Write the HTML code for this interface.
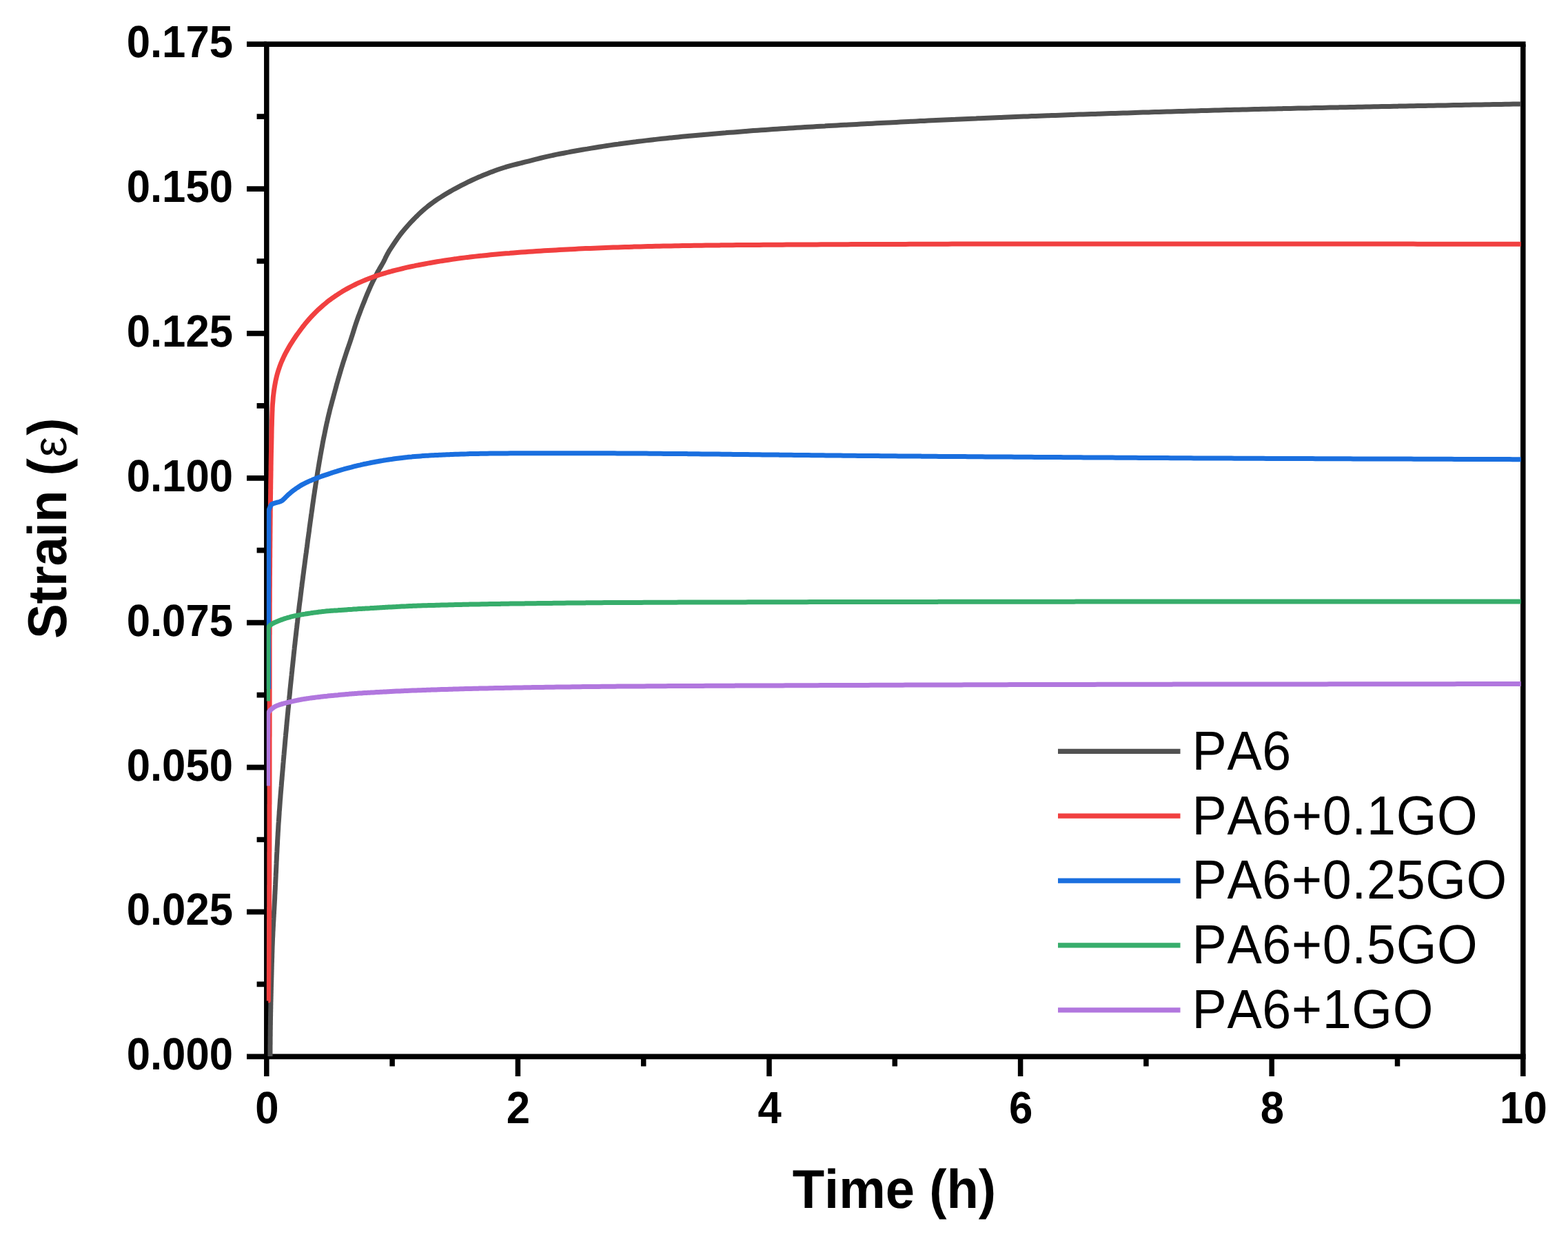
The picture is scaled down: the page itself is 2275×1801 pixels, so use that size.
<!DOCTYPE html>
<html lang="en"><head><meta charset="utf-8"><title>Creep strain vs. time</title>
<style>html,body{margin:0;padding:0;background:#fff}body{width:2275px;height:1801px;overflow:hidden}svg{display:block}text{font-family:"Liberation Sans",Arial,Helvetica,sans-serif;fill:#000;font-kerning:none;text-rendering:geometricPrecision}.tk{font-weight:700;font-size:61.7px}.ti{font-weight:700;font-size:76px}.lg{font-size:75.4px;letter-spacing:0.7px}</style></head><body>
<svg xmlns="http://www.w3.org/2000/svg" width="2275" height="1801" viewBox="0 0 2275 1801">
<rect width="2275" height="1801" fill="#fff"/>
<g stroke="#000" stroke-width="7.5" fill="none" stroke-linecap="butt">
<path stroke-width="7.7" d="M383.05,64.2H2213.55M383.05,1533.3H2213.55"/>
<path d="M386.8,64.2V1533.3M2209.8,64.2V1533.3"/>
<path stroke-width="7.7" d="M358.0,1533.3H386.8M372.6,1428.4H386.8M358.0,1323.4H386.8M372.6,1218.5H386.8M358.0,1113.6H386.8M372.6,1008.6H386.8M358.0,903.7H386.8M372.6,798.7H386.8M358.0,693.8H386.8M372.6,588.9H386.8M358.0,483.9H386.8M372.6,379.0H386.8M358.0,274.1H386.8M372.6,169.1H386.8M358.0,64.2H386.8"/>
<path d="M386.8,1533.3V1562.1M569.1,1533.3V1547.5M751.4,1533.3V1562.1M933.7,1533.3V1547.5M1116.0,1533.3V1562.1M1298.3,1533.3V1547.5M1480.6,1533.3V1562.1M1662.9,1533.3V1547.5M1845.2,1533.3V1562.1M2027.5,1533.3V1547.5M2209.8,1533.3V1562.1"/>
</g>
<clipPath id="c"><rect x="386.8" y="64.2" width="1820.00" height="1469.10"/></clipPath>
<g clip-path="url(#c)" fill="none" stroke-width="7.0" stroke-linejoin="round" stroke-linecap="butt">
<path stroke="#515151" d="M392.0,1533.0 L392.0,1533.0 L392.0,1533.0 L392.0,1533.0 L392.0,1532.9 L392.0,1532.9 L392.0,1532.9 L392.0,1532.9 L392.0,1532.9 L392.0,1532.8 L392.0,1532.8 L392.0,1532.8 L392.0,1532.8 L392.0,1532.8 L392.0,1532.7 L392.0,1532.7 L392.0,1532.7 L392.0,1532.7 L392.0,1532.7 L392.0,1532.6 L392.0,1532.6 L392.0,1532.6 L392.0,1532.6 L392.0,1532.6 L392.0,1532.5 L392.0,1532.5 L392.0,1532.5 L392.0,1532.5 L392.0,1532.4 L392.0,1532.4 L392.0,1532.4 L392.0,1532.4 L392.0,1532.3 L392.0,1532.3 L392.0,1532.3 L392.0,1532.3 L392.0,1532.2 L392.0,1532.2 L392.0,1532.2 L392.0,1532.1 L392.0,1532.1 L392.0,1532.1 L392.0,1532.0 L392.0,1532.0 L392.0,1532.0 L392.0,1531.9 L392.0,1531.9 L392.0,1531.9 L392.0,1531.8 L392.0,1531.8 L392.0,1531.8 L392.0,1531.7 L392.0,1531.7 L392.0,1531.7 L392.0,1531.6 L392.0,1531.6 L392.0,1531.6 L392.0,1531.5 L392.0,1531.5 L392.0,1531.4 L392.0,1531.4 L392.0,1531.4 L392.0,1531.3 L392.0,1531.3 L392.0,1531.2 L392.0,1531.2 L392.0,1531.1 L392.0,1531.1 L392.0,1531.0 L392.0,1531.0 L392.0,1530.9 L392.0,1530.9 L392.0,1530.8 L392.0,1530.8 L392.0,1530.7 L392.0,1530.7 L392.0,1530.6 L392.0,1530.6 L392.0,1530.5 L392.0,1530.5 L392.0,1530.4 L392.0,1530.4 L392.0,1530.3 L392.0,1530.2 L392.0,1530.2 L392.0,1530.1 L392.0,1530.1 L392.0,1530.0 L392.0,1529.9 L392.0,1529.9 L392.0,1529.8 L392.0,1529.7 L392.0,1529.7 L392.0,1529.6 L392.0,1529.5 L392.0,1529.4 L392.0,1529.4 L392.0,1529.3 L392.0,1529.2 L392.0,1529.1 L392.0,1529.1 L392.0,1529.0 L392.0,1528.9 L392.0,1528.8 L392.0,1528.7 L392.0,1528.7 L392.0,1528.6 L392.0,1528.5 L392.0,1528.4 L392.0,1528.3 L392.0,1528.2 L392.0,1528.1 L392.0,1528.0 L392.0,1527.9 L392.0,1527.8 L392.0,1527.7 L392.0,1527.6 L392.0,1527.5 L392.0,1527.4 L392.0,1527.3 L392.0,1527.2 L392.0,1527.2 L392.0,1527.1 L392.0,1527.0 L392.0,1526.9 L392.0,1526.8 L392.0,1526.6 L392.0,1526.5 L392.0,1526.4 L392.0,1526.3 L392.0,1526.2 L392.0,1526.0 L392.0,1525.9 L392.0,1525.8 L392.0,1525.6 L392.0,1525.5 L392.0,1525.4 L392.0,1525.2 L392.0,1525.1 L392.0,1524.9 L392.0,1524.8 L392.0,1524.6 L392.0,1524.5 L392.0,1524.3 L392.0,1524.2 L392.0,1524.0 L392.0,1523.9 L392.0,1523.7 L392.0,1523.5 L392.0,1523.4 L392.0,1523.2 L392.0,1523.0 L392.0,1522.9 L392.0,1522.7 L392.0,1522.5 L392.0,1522.3 L392.0,1522.1 L392.0,1521.9 L392.0,1521.7 L392.0,1521.5 L392.0,1521.4 L392.0,1521.3 L392.0,1521.1 L392.0,1520.9 L392.0,1520.7 L392.0,1520.5 L392.0,1520.3 L392.0,1520.1 L392.0,1519.8 L392.0,1519.6 L392.0,1519.4 L392.0,1519.1 L392.0,1518.9 L392.0,1518.7 L392.0,1518.4 L392.0,1518.2 L392.0,1517.9 L392.0,1517.6 L392.0,1517.4 L392.0,1517.1 L392.0,1516.8 L392.0,1516.6 L392.0,1516.3 L392.1,1516.0 L392.1,1515.7 L392.1,1515.7 L392.1,1515.4 L392.1,1515.1 L392.1,1514.8 L392.1,1514.5 L392.1,1514.2 L392.1,1513.9 L392.1,1513.6 L392.1,1513.2 L392.1,1512.9 L392.1,1512.6 L392.1,1512.2 L392.1,1511.9 L392.1,1511.5 L392.1,1511.1 L392.1,1510.8 L392.1,1510.4 L392.1,1510.0 L392.1,1509.9 L392.1,1509.6 L392.1,1509.2 L392.1,1508.8 L392.1,1508.4 L392.1,1508.0 L392.1,1507.6 L392.1,1507.2 L392.1,1506.7 L392.1,1506.3 L392.1,1505.9 L392.1,1505.4 L392.1,1505.0 L392.1,1504.5 L392.1,1504.1 L392.1,1504.0 L392.2,1503.5 L392.2,1503.0 L392.2,1502.5 L392.2,1502.0 L392.2,1501.5 L392.2,1501.0 L392.2,1500.5 L392.2,1499.9 L392.2,1499.4 L392.2,1498.8 L392.2,1498.3 L392.2,1498.3 L392.2,1497.7 L392.2,1497.1 L392.2,1496.5 L392.2,1495.9 L392.2,1495.3 L392.2,1494.7 L392.3,1494.0 L392.3,1493.4 L392.3,1492.7 L392.3,1492.6 L392.3,1492.1 L392.3,1491.4 L392.3,1490.7 L392.3,1490.0 L392.3,1489.3 L392.3,1488.6 L392.3,1487.8 L392.4,1487.1 L392.4,1486.8 L392.4,1486.4 L392.4,1485.6 L392.4,1484.8 L392.4,1484.0 L392.4,1483.2 L392.4,1482.4 L392.4,1481.6 L392.4,1481.0 L392.4,1480.7 L392.5,1479.9 L392.5,1479.0 L392.5,1478.1 L392.5,1477.2 L392.5,1476.3 L392.5,1475.4 L392.5,1475.2 L392.6,1474.4 L392.6,1473.5 L392.6,1472.5 L392.6,1471.5 L392.6,1470.5 L392.6,1469.5 L392.6,1469.5 L392.7,1468.4 L392.7,1467.4 L392.7,1466.3 L392.7,1465.2 L392.7,1464.1 L392.8,1463.7 L392.8,1463.0 L392.8,1461.8 L392.8,1460.7 L392.8,1459.5 L392.9,1458.3 L392.9,1457.9 L392.9,1457.1 L392.9,1455.9 L392.9,1454.6 L393.0,1453.3 L393.0,1452.1 L393.0,1452.0 L393.0,1450.7 L393.1,1449.4 L393.1,1448.0 L393.1,1446.6 L393.1,1446.4 L393.2,1445.2 L393.2,1443.8 L393.2,1442.3 L393.3,1440.9 L393.3,1440.6 L393.3,1439.4 L393.3,1437.8 L393.4,1436.3 L393.4,1434.8 L393.4,1434.7 L393.4,1433.1 L393.5,1431.5 L393.5,1429.8 L393.5,1429.0 L393.6,1428.2 L393.6,1426.5 L393.7,1424.7 L393.7,1423.3 L393.7,1423.0 L393.8,1421.2 L393.8,1419.4 L393.9,1417.5 L393.9,1417.5 L393.9,1415.7 L394.0,1413.8 L394.0,1411.8 L394.0,1411.7 L394.1,1409.9 L394.1,1407.9 L394.2,1405.9 L394.2,1405.8 L394.2,1403.8 L394.3,1401.7 L394.3,1400.2 L394.3,1399.5 L394.4,1397.4 L394.5,1395.2 L394.5,1394.4 L394.5,1393.0 L394.6,1390.7 L394.7,1388.6 L394.7,1388.4 L394.7,1386.0 L394.8,1383.7 L394.8,1382.9 L394.9,1381.2 L394.9,1378.8 L395.0,1377.1 L395.0,1376.3 L395.1,1373.7 L395.2,1371.3 L395.2,1371.2 L395.3,1368.6 L395.4,1365.9 L395.4,1365.5 L395.5,1363.2 L395.6,1360.4 L395.7,1359.8 L395.8,1357.7 L395.9,1354.8 L395.9,1354.0 L396.0,1351.9 L396.2,1349.0 L396.2,1348.2 L396.3,1346.0 L396.5,1343.0 L396.5,1342.5 L396.6,1339.9 L396.8,1336.8 L396.8,1336.7 L397.0,1333.7 L397.1,1330.9 L397.2,1330.4 L397.3,1327.2 L397.5,1325.2 L397.5,1323.8 L397.7,1320.5 L397.8,1319.4 L397.9,1317.0 L398.1,1313.6 L398.1,1313.5 L398.3,1310.0 L398.4,1307.9 L398.5,1306.4 L398.7,1302.7 L398.7,1302.1 L398.8,1299.0 L399.0,1296.3 L399.0,1295.2 L399.2,1291.4 L399.3,1290.5 L399.4,1287.5 L399.5,1284.8 L399.6,1283.5 L399.8,1279.5 L399.8,1279.0 L400.0,1275.4 L400.1,1273.2 L400.2,1271.2 L400.3,1267.5 L400.4,1267.0 L400.6,1262.7 L400.6,1261.7 L400.8,1258.3 L400.9,1255.9 L401.0,1253.9 L401.1,1250.2 L401.2,1249.4 L401.4,1244.8 L401.4,1244.4 L401.6,1240.2 L401.7,1238.6 L401.9,1235.4 L402.0,1232.8 L402.1,1230.6 L402.3,1227.1 L402.4,1225.8 L402.6,1221.3 L402.6,1220.8 L402.9,1215.8 L402.9,1215.5 L403.2,1210.7 L403.2,1209.8 L403.5,1205.5 L403.6,1204.0 L403.8,1200.2 L403.9,1198.2 L404.1,1194.8 L404.3,1192.5 L404.5,1189.4 L404.7,1186.7 L404.9,1183.8 L405.1,1181.0 L405.2,1178.2 L405.5,1175.2 L405.7,1172.5 L405.9,1169.4 L406.1,1166.7 L406.3,1163.7 L406.5,1160.8 L406.8,1157.9 L407.0,1154.8 L407.2,1152.2 L407.5,1148.7 L407.7,1146.4 L408.0,1142.5 L408.2,1140.6 L408.5,1136.2 L408.6,1134.9 L409.1,1129.8 L409.1,1129.1 L409.6,1123.4 L409.6,1123.3 L410.1,1117.6 L410.2,1116.8 L410.6,1111.9 L410.7,1110.1 L411.1,1106.1 L411.3,1103.2 L411.6,1100.4 L411.9,1096.3 L412.1,1094.6 L412.5,1089.3 L412.6,1088.8 L413.1,1083.1 L413.2,1082.2 L413.6,1077.3 L413.8,1074.9 L414.1,1071.6 L414.5,1067.5 L414.6,1065.8 L415.2,1060.1 L415.2,1060.1 L415.7,1054.3 L415.9,1052.5 L416.2,1048.6 L416.6,1044.7 L416.8,1042.8 L417.3,1037.1 L417.4,1036.9 L417.9,1031.3 L418.1,1028.9 L418.5,1025.6 L418.9,1020.8 L419.0,1019.8 L419.6,1014.1 L419.7,1012.6 L420.2,1008.3 L420.6,1004.2 L420.7,1002.6 L421.3,996.8 L421.4,995.7 L421.9,991.1 L422.3,987.1 L422.5,985.4 L423.1,979.6 L423.2,978.3 L423.7,973.9 L424.1,969.4 L424.3,968.1 L424.9,962.4 L425.1,960.3 L425.5,956.6 L426.1,951.1 L426.1,950.9 L426.7,945.1 L427.1,941.8 L427.3,939.4 L428.0,933.7 L428.1,932.3 L428.6,927.9 L429.2,922.6 L429.3,922.2 L429.9,916.4 L430.3,912.8 L430.6,910.7 L431.2,905.0 L431.5,902.9 L431.9,899.2 L432.6,893.5 L432.7,892.8 L433.2,887.8 L433.9,882.5 L433.9,882.0 L434.6,876.3 L435.2,872.1 L435.4,870.6 L436.1,864.8 L436.5,861.5 L436.8,859.1 L437.5,853.4 L437.9,850.7 L438.2,847.6 L439.0,841.9 L439.3,839.8 L439.7,836.2 L440.5,830.5 L440.7,828.6 L441.2,824.7 L442.0,819.0 L442.2,817.4 L442.7,813.3 L443.5,807.5 L443.7,805.9 L444.3,801.8 L445.0,796.1 L445.3,794.2 L445.8,790.4 L446.5,784.6 L446.8,782.4 L447.3,778.9 L448.1,773.2 L448.5,770.4 L448.8,767.5 L449.6,761.7 L450.1,758.1 L450.4,756.0 L451.2,750.3 L451.8,745.7 L452.0,744.6 L452.8,738.9 L453.6,733.1 L453.6,733.1 L454.4,727.4 L455.2,721.7 L455.4,720.3 L456.1,716.0 L456.9,710.3 L457.4,707.3 L457.8,704.6 L458.7,698.9 L459.4,694.1 L459.6,693.2 L460.5,687.4 L461.4,681.7 L461.6,680.7 L462.4,676.0 L463.3,670.4 L463.9,667.1 L464.3,664.7 L465.3,659.0 L466.3,653.3 L466.3,653.3 L467.4,647.6 L468.4,641.9 L468.9,639.3 L469.5,636.3 L470.7,630.6 L471.8,625.1 L471.8,624.9 L473.0,619.3 L474.2,613.6 L474.9,610.8 L475.5,608.0 L476.8,602.4 L478.2,596.8 L478.3,596.2 L479.6,591.2 L481.1,585.6 L482.1,581.6 L482.6,580.0 L484.1,574.4 L485.6,568.9 L486.2,566.7 L487.1,563.3 L488.6,557.7 L490.2,552.1 L490.3,551.6 L491.8,546.6 L493.4,541.0 L494.8,536.3 L495.0,535.5 L496.7,530.0 L498.4,524.5 L499.6,520.8 L500.2,519.0 L502.0,513.5 L503.8,508.0 L504.8,505.2 L505.7,502.5 L507.6,497.1 L509.4,491.6 L510.1,489.4 L511.2,486.1 L512.9,480.6 L514.6,475.1 L515.2,473.2 L516.4,469.6 L518.3,464.1 L520.2,458.7 L520.9,456.9 L522.3,453.3 L524.3,447.9 L526.4,442.5 L527.2,440.6 L528.6,437.1 L530.7,431.8 L532.9,426.4 L533.9,424.1 L535.2,421.1 L537.5,415.8 L540.0,410.6 L541.4,407.6 L542.5,405.4 L545.1,400.3 L547.8,395.1 L549.9,391.4 L550.6,390.1 L553.6,385.1 L556.4,380.1 L558.9,375.0 L558.9,374.9 L561.5,369.7 L564.3,364.7 L567.4,359.8 L568.3,358.5 L570.6,355.0 L573.8,350.2 L577.1,345.4 L579.2,342.6 L580.5,340.8 L584.1,336.3 L587.9,331.8 L591.6,327.5 L591.6,327.5 L595.5,323.2 L599.5,319.0 L603.5,314.9 L605.4,313.1 L607.7,310.8 L611.9,306.9 L616.2,303.1 L620.5,299.6 L620.7,299.4 L625.3,295.9 L629.9,292.5 L634.7,289.2 L637.1,287.6 L639.5,286.1 L644.4,283.0 L649.4,280.0 L654.4,277.1 L655.0,276.8 L659.4,274.3 L664.5,271.6 L669.6,268.9 L673.8,266.8 L674.8,266.3 L680.0,263.7 L685.2,261.3 L690.5,258.9 L693.3,257.6 L695.8,256.6 L701.1,254.3 L706.4,252.2 L711.8,250.0 L713.6,249.4 L717.2,248.0 L722.7,246.0 L728.1,244.2 L733.6,242.5 L734.7,242.2 L739.2,240.9 L744.8,239.4 L750.4,238.0 L756.0,236.6 L756.5,236.5 L761.6,235.2 L767.2,233.8 L772.8,232.3 L778.4,230.9 L778.8,230.8 L784.0,229.5 L789.6,228.1 L795.2,226.8 L800.9,225.6 L801.6,225.5 L806.5,224.4 L812.2,223.3 L817.9,222.2 L823.5,221.1 L824.8,220.9 L829.2,220.0 L834.9,219.0 L840.6,218.0 L846.3,217.0 L848.6,216.6 L852.0,216.1 L857.7,215.1 L863.4,214.2 L869.1,213.3 L872.8,212.7 L874.8,212.4 L880.5,211.5 L886.2,210.6 L891.9,209.8 L897.4,209.1 L897.7,209.0 L903.4,208.2 L909.1,207.5 L914.8,206.7 L920.6,206.0 L922.5,205.8 L926.3,205.3 L932.0,204.6 L937.8,203.9 L943.5,203.2 L948.0,202.7 L949.2,202.6 L955.0,201.9 L960.7,201.3 L966.5,200.7 L972.2,200.1 L974.0,199.9 L977.9,199.5 L983.7,198.9 L989.4,198.3 L995.2,197.8 L1000.4,197.3 L1000.9,197.3 L1006.7,196.7 L1012.4,196.2 L1018.2,195.7 L1024.0,195.2 L1027.2,194.9 L1029.7,194.7 L1035.5,194.2 L1041.2,193.7 L1047.0,193.2 L1052.7,192.8 L1054.5,192.6 L1058.5,192.3 L1064.2,191.9 L1070.0,191.4 L1075.8,191.0 L1081.5,190.5 L1082.3,190.5 L1087.3,190.1 L1093.0,189.6 L1098.8,189.2 L1104.6,188.8 L1110.3,188.4 L1110.5,188.4 L1116.1,188.0 L1121.9,187.6 L1127.6,187.2 L1133.4,186.8 L1139.1,186.4 L1139.2,186.4 L1144.9,186.0 L1150.7,185.7 L1156.4,185.3 L1162.2,184.9 L1168.0,184.6 L1168.3,184.6 L1173.7,184.2 L1179.5,183.9 L1185.3,183.6 L1191.0,183.2 L1196.8,182.9 L1197.9,182.8 L1202.6,182.6 L1208.3,182.3 L1214.1,181.9 L1219.9,181.6 L1225.6,181.3 L1228.0,181.2 L1231.4,181.0 L1237.2,180.7 L1242.9,180.4 L1248.7,180.1 L1254.5,179.8 L1258.6,179.5 L1260.2,179.5 L1266.0,179.2 L1271.8,178.8 L1277.5,178.5 L1283.3,178.2 L1289.1,177.9 L1289.7,177.9 L1294.8,177.7 L1300.6,177.4 L1306.4,177.1 L1312.1,176.8 L1317.9,176.5 L1321.3,176.3 L1323.7,176.2 L1329.5,175.9 L1335.2,175.6 L1341.0,175.4 L1346.8,175.1 L1352.5,174.8 L1353.4,174.8 L1358.3,174.5 L1364.1,174.3 L1369.8,174.0 L1375.6,173.7 L1381.4,173.5 L1386.0,173.3 L1387.2,173.2 L1392.9,173.0 L1398.7,172.7 L1404.5,172.5 L1410.2,172.2 L1416.0,172.0 L1419.2,171.8 L1421.8,171.7 L1427.5,171.5 L1433.3,171.2 L1439.1,171.0 L1444.9,170.7 L1450.6,170.5 L1452.9,170.4 L1456.4,170.2 L1462.2,170.0 L1467.9,169.8 L1473.7,169.6 L1479.5,169.3 L1485.3,169.1 L1487.1,169.0 L1491.0,168.9 L1496.8,168.6 L1502.6,168.4 L1508.3,168.2 L1514.1,168.0 L1519.9,167.8 L1521.9,167.7 L1525.7,167.6 L1531.4,167.4 L1537.2,167.2 L1543.0,166.9 L1548.7,166.7 L1554.5,166.5 L1557.2,166.4 L1560.3,166.3 L1566.1,166.1 L1571.8,165.9 L1577.6,165.7 L1583.4,165.6 L1589.2,165.4 L1593.2,165.2 L1594.9,165.2 L1600.7,165.0 L1606.5,164.8 L1612.2,164.6 L1618.0,164.4 L1623.8,164.2 L1629.6,164.0 L1629.7,164.0 L1635.3,163.9 L1641.1,163.7 L1646.9,163.5 L1652.7,163.3 L1658.4,163.1 L1664.2,163.0 L1666.8,162.9 L1670.0,162.8 L1675.7,162.6 L1681.5,162.4 L1687.3,162.3 L1693.1,162.1 L1698.8,161.9 L1704.4,161.7 L1704.6,161.7 L1710.4,161.6 L1716.2,161.4 L1721.9,161.2 L1727.7,161.1 L1733.5,160.9 L1739.3,160.7 L1742.7,160.6 L1745.0,160.6 L1750.8,160.4 L1756.6,160.2 L1762.4,160.1 L1768.1,159.9 L1773.9,159.8 L1779.7,159.6 L1781.6,159.6 L1785.4,159.5 L1791.2,159.3 L1797.0,159.2 L1802.8,159.0 L1808.5,158.9 L1814.3,158.7 L1820.1,158.6 L1821.2,158.6 L1825.9,158.5 L1831.6,158.3 L1837.4,158.2 L1843.2,158.1 L1849.0,157.9 L1854.7,157.8 L1860.5,157.7 L1861.4,157.6 L1866.3,157.5 L1872.1,157.4 L1877.8,157.3 L1883.6,157.1 L1889.4,157.0 L1895.2,156.9 L1900.9,156.8 L1902.2,156.7 L1906.7,156.6 L1912.5,156.5 L1918.3,156.4 L1924.0,156.3 L1929.8,156.1 L1935.6,156.0 L1941.4,155.9 L1943.7,155.8 L1947.1,155.8 L1952.9,155.7 L1958.7,155.5 L1964.5,155.4 L1970.2,155.3 L1976.0,155.2 L1981.8,155.1 L1985.8,155.0 L1987.6,154.9 L1993.3,154.8 L1999.1,154.7 L2004.9,154.6 L2010.7,154.5 L2016.4,154.4 L2022.2,154.3 L2028.0,154.2 L2028.7,154.1 L2033.8,154.0 L2039.5,153.9 L2045.3,153.8 L2051.1,153.7 L2056.9,153.6 L2062.6,153.5 L2068.4,153.4 L2072.2,153.3 L2074.2,153.3 L2080.0,153.2 L2085.7,153.1 L2091.5,153.0 L2097.3,152.9 L2103.1,152.8 L2108.8,152.6 L2114.6,152.5 L2116.4,152.5 L2120.4,152.4 L2126.1,152.3 L2131.9,152.2 L2137.7,152.1 L2143.5,152.0 L2149.2,151.9 L2155.0,151.8 L2160.8,151.7 L2161.3,151.7 L2166.6,151.6 L2172.3,151.5 L2178.1,151.4 L2183.9,151.3 L2189.7,151.2 L2195.4,151.1 L2201.2,151.0 L2207.0,150.9"/>
<path stroke="#f14040" d="M389.3,1452.6 L389.3,1452.6 L389.3,1452.6 L389.3,1452.6 L389.3,1452.5 L389.3,1452.5 L389.3,1452.5 L389.3,1452.5 L389.3,1452.5 L389.3,1452.5 L389.3,1452.4 L389.3,1452.4 L389.3,1452.4 L389.3,1452.4 L389.3,1452.4 L389.3,1452.3 L389.3,1452.3 L389.3,1452.3 L389.3,1452.3 L389.3,1452.3 L389.3,1452.2 L389.3,1452.2 L389.3,1452.2 L389.3,1452.2 L389.3,1452.1 L389.3,1452.1 L389.3,1452.1 L389.3,1452.1 L389.4,1452.1 L389.4,1452.0 L389.4,1452.0 L389.4,1452.0 L389.4,1452.0 L389.4,1451.9 L389.4,1451.9 L389.4,1451.9 L389.4,1451.8 L389.4,1451.8 L389.4,1451.8 L389.4,1451.8 L389.4,1451.7 L389.4,1451.7 L389.4,1451.7 L389.4,1451.6 L389.4,1451.6 L389.4,1451.6 L389.4,1451.5 L389.4,1451.5 L389.4,1451.5 L389.4,1451.4 L389.4,1451.4 L389.4,1451.4 L389.4,1451.3 L389.4,1451.3 L389.4,1451.3 L389.4,1451.2 L389.4,1451.2 L389.4,1451.1 L389.4,1451.1 L389.4,1451.1 L389.4,1451.0 L389.4,1451.0 L389.4,1450.9 L389.4,1450.9 L389.4,1450.8 L389.4,1450.8 L389.4,1450.8 L389.4,1450.7 L389.4,1450.7 L389.4,1450.6 L389.4,1450.6 L389.4,1450.5 L389.4,1450.5 L389.4,1450.4 L389.4,1450.4 L389.4,1450.3 L389.4,1450.3 L389.4,1450.2 L389.4,1450.2 L389.4,1450.1 L389.4,1450.0 L389.4,1450.0 L389.4,1449.9 L389.4,1449.9 L389.4,1449.8 L389.4,1449.8 L389.4,1449.7 L389.4,1449.6 L389.4,1449.6 L389.4,1449.5 L389.4,1449.4 L389.4,1449.4 L389.4,1449.3 L389.4,1449.2 L389.4,1449.2 L389.4,1449.1 L389.4,1449.0 L389.4,1448.9 L389.4,1448.9 L389.4,1448.8 L389.4,1448.7 L389.4,1448.6 L389.4,1448.6 L389.4,1448.5 L389.4,1448.4 L389.4,1448.3 L389.4,1448.2 L389.4,1448.1 L389.4,1448.0 L389.4,1448.0 L389.4,1447.9 L389.4,1447.8 L389.4,1447.7 L389.4,1447.6 L389.4,1447.5 L389.4,1447.4 L389.4,1447.3 L389.4,1447.2 L389.4,1447.1 L389.4,1447.0 L389.4,1447.0 L389.4,1446.9 L389.4,1446.8 L389.4,1446.7 L389.4,1446.5 L389.4,1446.4 L389.4,1446.3 L389.4,1446.2 L389.4,1446.1 L389.4,1446.0 L389.4,1445.8 L389.4,1445.7 L389.4,1445.6 L389.4,1445.5 L389.4,1445.3 L389.4,1445.2 L389.4,1445.1 L389.4,1444.9 L389.4,1444.8 L389.4,1444.6 L389.4,1444.5 L389.4,1444.4 L389.4,1444.2 L389.4,1444.1 L389.4,1443.9 L389.5,1443.7 L389.5,1443.6 L389.5,1443.4 L389.5,1443.3 L389.5,1443.1 L389.5,1442.9 L389.5,1442.8 L389.5,1442.6 L389.5,1442.4 L389.5,1442.2 L389.5,1442.0 L389.5,1441.9 L389.5,1441.7 L389.5,1441.5 L389.5,1441.5 L389.5,1441.3 L389.5,1441.1 L389.5,1440.9 L389.5,1440.7 L389.5,1440.5 L389.5,1440.3 L389.5,1440.1 L389.5,1439.8 L389.5,1439.6 L389.5,1439.4 L389.5,1439.2 L389.5,1438.9 L389.5,1438.7 L389.5,1438.5 L389.5,1438.2 L389.5,1438.0 L389.5,1437.7 L389.5,1437.5 L389.5,1437.2 L389.5,1436.9 L389.5,1436.7 L389.5,1436.4 L389.5,1436.1 L389.5,1435.9 L389.5,1435.8 L389.5,1435.6 L389.6,1435.3 L389.6,1435.0 L389.6,1434.7 L389.6,1434.4 L389.6,1434.1 L389.6,1433.8 L389.6,1433.4 L389.6,1433.1 L389.6,1432.8 L389.6,1432.5 L389.6,1432.1 L389.6,1431.8 L389.6,1431.4 L389.6,1431.1 L389.6,1430.7 L389.6,1430.3 L389.6,1430.3 L389.6,1430.0 L389.6,1429.6 L389.6,1429.2 L389.6,1428.8 L389.6,1428.4 L389.6,1428.0 L389.6,1427.6 L389.6,1427.2 L389.7,1426.8 L389.7,1426.3 L389.7,1425.9 L389.7,1425.4 L389.7,1425.0 L389.7,1424.7 L389.7,1424.5 L389.7,1424.1 L389.7,1423.6 L389.7,1423.1 L389.7,1422.6 L389.7,1422.1 L389.7,1421.6 L389.7,1421.1 L389.7,1420.6 L389.7,1420.1 L389.7,1419.5 L389.7,1419.1 L389.7,1419.0 L389.8,1418.4 L389.8,1417.9 L389.8,1417.3 L389.8,1416.7 L389.8,1416.1 L389.8,1415.5 L389.8,1414.9 L389.8,1414.3 L389.8,1413.7 L389.8,1413.5 L389.8,1413.0 L389.8,1412.4 L389.8,1411.7 L389.8,1411.0 L389.8,1410.3 L389.9,1409.7 L389.9,1408.9 L389.9,1408.2 L389.9,1408.0 L389.9,1407.5 L389.9,1406.8 L389.9,1406.0 L389.9,1405.3 L389.9,1404.5 L389.9,1403.7 L389.9,1402.9 L389.9,1402.4 L389.9,1402.1 L389.9,1401.3 L390.0,1400.4 L390.0,1399.6 L390.0,1398.7 L390.0,1397.8 L390.0,1396.9 L390.0,1396.8 L390.0,1396.0 L390.0,1395.1 L390.0,1394.2 L390.0,1393.2 L390.0,1392.2 L390.1,1391.2 L390.1,1391.2 L390.1,1390.2 L390.1,1389.2 L390.1,1388.2 L390.1,1387.2 L390.1,1386.1 L390.1,1385.6 L390.1,1385.0 L390.1,1383.9 L390.1,1382.8 L390.2,1381.7 L390.2,1380.5 L390.2,1380.1 L390.2,1379.3 L390.2,1378.1 L390.2,1376.9 L390.2,1375.7 L390.2,1374.5 L390.2,1374.5 L390.2,1373.2 L390.2,1371.9 L390.3,1370.6 L390.3,1369.3 L390.3,1368.9 L390.3,1367.9 L390.3,1366.5 L390.3,1365.1 L390.3,1363.7 L390.3,1363.3 L390.3,1362.3 L390.3,1360.8 L390.4,1359.3 L390.4,1357.8 L390.4,1357.7 L390.4,1356.3 L390.4,1354.7 L390.4,1353.1 L390.4,1352.2 L390.4,1351.5 L390.4,1349.9 L390.5,1348.2 L390.5,1346.6 L390.5,1346.5 L390.5,1344.8 L390.5,1343.1 L390.5,1341.3 L390.5,1341.0 L390.5,1339.5 L390.5,1337.7 L390.5,1335.8 L390.5,1335.4 L390.6,1333.9 L390.6,1332.0 L390.6,1330.1 L390.6,1329.8 L390.6,1328.1 L390.6,1326.1 L390.6,1324.3 L390.6,1324.0 L390.6,1322.0 L390.6,1319.8 L390.6,1318.7 L390.6,1317.7 L390.7,1315.5 L390.7,1313.3 L390.7,1313.1 L390.7,1311.1 L390.7,1308.8 L390.7,1307.5 L390.7,1306.5 L390.7,1304.1 L390.7,1301.9 L390.7,1301.7 L390.7,1299.3 L390.7,1296.8 L390.7,1296.3 L390.7,1294.3 L390.7,1291.7 L390.7,1290.8 L390.7,1289.1 L390.7,1286.5 L390.7,1285.2 L390.8,1283.8 L390.8,1281.1 L390.8,1279.6 L390.8,1278.3 L390.8,1275.5 L390.8,1274.0 L390.8,1272.7 L390.8,1269.8 L390.8,1268.4 L390.8,1266.8 L390.8,1263.8 L390.8,1262.9 L390.8,1260.8 L390.8,1257.7 L390.8,1257.3 L390.8,1254.6 L390.8,1251.7 L390.8,1251.4 L390.8,1248.1 L390.8,1246.1 L390.8,1244.8 L390.8,1241.5 L390.8,1240.5 L390.8,1238.1 L390.9,1235.0 L390.9,1234.7 L390.9,1231.1 L390.9,1229.4 L390.9,1227.6 L390.9,1224.0 L390.9,1223.8 L390.9,1220.3 L390.9,1218.2 L390.9,1216.5 L390.9,1212.7 L390.9,1212.6 L390.9,1208.9 L390.9,1207.0 L390.9,1205.0 L390.9,1201.5 L390.9,1201.0 L390.9,1196.9 L390.9,1195.9 L390.9,1192.8 L390.9,1190.3 L390.9,1188.6 L390.9,1184.7 L390.9,1184.4 L390.9,1180.1 L390.9,1179.1 L390.9,1175.7 L390.9,1173.6 L390.9,1171.2 L390.9,1168.0 L391.0,1166.7 L391.0,1162.4 L391.0,1162.1 L391.0,1157.4 L391.0,1156.8 L391.0,1152.7 L391.0,1151.2 L391.0,1147.9 L391.0,1145.7 L391.0,1143.0 L391.0,1140.1 L391.0,1138.0 L391.0,1134.5 L391.0,1132.9 L391.0,1128.9 L391.0,1127.8 L391.0,1123.3 L391.0,1122.6 L391.0,1117.7 L391.0,1117.3 L391.0,1112.2 L391.0,1111.9 L391.0,1106.6 L391.0,1106.4 L391.0,1101.0 L391.0,1100.8 L391.0,1095.4 L391.0,1095.2 L391.0,1089.8 L391.0,1089.5 L391.0,1084.3 L391.0,1083.6 L391.0,1078.7 L391.0,1077.7 L391.0,1073.1 L391.0,1071.7 L391.1,1067.5 L391.1,1065.5 L391.1,1061.9 L391.1,1059.3 L391.1,1056.4 L391.1,1053.0 L391.1,1050.8 L391.1,1046.6 L391.1,1045.2 L391.1,1040.1 L391.1,1039.6 L391.1,1034.0 L391.1,1033.4 L391.1,1028.4 L391.1,1026.7 L391.1,1022.9 L391.1,1019.9 L391.1,1017.3 L391.1,1012.9 L391.1,1011.7 L391.1,1006.1 L391.1,1005.9 L391.1,1000.5 L391.1,998.7 L391.1,995.0 L391.1,991.4 L391.1,989.4 L391.1,984.0 L391.1,983.8 L391.1,978.2 L391.1,976.5 L391.1,972.6 L391.1,968.8 L391.1,967.1 L391.1,961.5 L391.1,961.0 L391.1,955.9 L391.1,953.1 L391.1,950.3 L391.1,945.1 L391.1,944.7 L391.1,939.1 L391.1,937.0 L391.1,933.6 L391.1,928.7 L391.1,928.0 L391.1,922.4 L391.2,920.3 L391.2,916.8 L391.2,911.7 L391.2,911.2 L391.2,905.7 L391.2,903.1 L391.2,900.1 L391.2,894.5 L391.2,894.2 L391.2,888.9 L391.2,885.3 L391.2,883.3 L391.2,877.8 L391.2,876.2 L391.3,872.2 L391.3,866.9 L391.3,866.6 L391.3,861.0 L391.3,857.5 L391.3,855.4 L391.4,849.8 L391.4,848.0 L391.4,844.3 L391.4,838.7 L391.4,838.3 L391.5,833.1 L391.5,828.4 L391.5,827.5 L391.6,821.9 L391.6,818.4 L391.6,816.4 L391.6,810.8 L391.7,808.2 L391.7,805.2 L391.7,799.6 L391.7,797.9 L391.8,794.0 L391.8,788.5 L391.8,787.4 L391.9,782.9 L391.9,777.3 L391.9,776.7 L392.0,771.7 L392.0,766.1 L392.0,765.8 L392.1,760.6 L392.1,755.0 L392.1,754.8 L392.2,749.4 L392.2,743.8 L392.2,743.6 L392.3,738.2 L392.4,732.6 L392.4,732.2 L392.4,727.1 L392.5,721.5 L392.5,720.7 L392.6,715.9 L392.6,710.3 L392.7,708.9 L392.7,704.7 L392.8,699.2 L392.8,697.0 L392.9,693.6 L393.0,688.0 L393.0,684.9 L393.1,682.4 L393.1,676.8 L393.2,672.6 L393.2,671.3 L393.3,665.7 L393.4,660.1 L393.4,660.1 L393.5,654.5 L393.7,648.9 L393.7,647.3 L393.8,643.4 L393.9,637.8 L394.0,634.4 L394.0,632.2 L394.1,626.6 L394.2,621.3 L394.2,621.0 L394.4,615.5 L394.5,609.9 L394.6,608.0 L394.7,604.3 L394.9,598.7 L395.1,594.4 L395.1,593.1 L395.4,587.6 L395.9,582.0 L396.0,580.7 L396.3,576.4 L397.0,570.9 L397.5,566.8 L397.7,565.4 L398.6,559.9 L399.6,554.4 L399.9,552.8 L400.8,548.9 L402.1,543.5 L403.5,538.8 L403.7,538.1 L405.5,532.8 L407.4,527.6 L408.5,525.0 L409.6,522.5 L411.9,517.4 L414.4,512.4 L414.9,511.5 L417.1,507.5 L419.9,502.6 L422.4,498.4 L422.8,497.9 L425.8,493.2 L428.9,488.5 L430.9,485.6 L432.1,484.0 L435.4,479.5 L438.7,475.0 L440.3,473.0 L442.2,470.6 L445.8,466.3 L449.4,462.1 L450.5,460.9 L453.2,458.0 L457.1,454.0 L461.1,450.1 L461.8,449.4 L465.2,446.3 L469.4,442.6 L473.7,439.1 L474.2,438.6 L478.1,435.6 L482.6,432.3 L487.2,429.1 L487.7,428.8 L491.8,426.1 L496.6,423.1 L501.4,420.3 L502.1,419.9 L506.2,417.6 L511.2,415.0 L516.2,412.5 L517.3,411.9 L521.2,410.1 L526.4,407.9 L531.5,405.7 L533.4,405.0 L536.7,403.7 L542.0,401.8 L547.2,399.9 L550.1,399.0 L552.5,398.2 L557.9,396.6 L563.2,395.0 L567.4,393.9 L568.6,393.5 L574.0,392.1 L579.4,390.8 L584.9,389.5 L585.1,389.4 L590.3,388.2 L595.7,387.0 L601.2,385.9 L603.3,385.4 L606.7,384.8 L612.2,383.7 L617.6,382.7 L621.9,381.9 L623.1,381.7 L628.6,380.7 L634.1,379.8 L639.6,378.9 L640.9,378.7 L645.2,378.0 L650.7,377.2 L656.2,376.4 L660.2,375.8 L661.7,375.6 L667.3,374.8 L672.8,374.1 L678.3,373.4 L679.9,373.3 L683.9,372.8 L689.4,372.1 L695.0,371.5 L699.9,371.0 L700.5,370.9 L706.1,370.4 L711.6,369.8 L717.2,369.3 L720.3,369.0 L722.7,368.8 L728.3,368.3 L733.9,367.8 L739.4,367.4 L741.0,367.2 L745.0,366.9 L750.5,366.5 L756.1,366.1 L761.7,365.7 L762.1,365.7 L767.3,365.3 L772.8,364.9 L778.4,364.5 L783.6,364.2 L784.0,364.2 L789.5,363.8 L795.1,363.5 L800.7,363.2 L805.4,362.9 L806.2,362.9 L811.8,362.5 L817.4,362.2 L823.0,361.9 L827.5,361.7 L828.5,361.7 L834.1,361.4 L839.7,361.1 L845.3,360.8 L850.0,360.6 L850.8,360.6 L856.4,360.4 L862.0,360.2 L867.6,359.9 L872.9,359.7 L873.1,359.7 L878.7,359.5 L884.3,359.3 L889.9,359.1 L895.5,358.9 L896.2,358.9 L901.0,358.7 L906.6,358.5 L912.2,358.4 L917.8,358.2 L919.8,358.1 L923.3,358.0 L928.9,357.9 L934.5,357.7 L940.1,357.6 L943.8,357.5 L945.7,357.5 L951.2,357.3 L956.8,357.2 L962.4,357.1 L968.0,357.0 L968.2,357.0 L973.6,356.9 L979.1,356.8 L984.7,356.7 L990.3,356.6 L993.0,356.5 L995.9,356.5 L1001.5,356.4 L1007.0,356.3 L1012.6,356.2 L1018.2,356.2 L1018.2,356.2 L1023.8,356.1 L1029.4,356.0 L1035.0,356.0 L1040.5,355.9 L1043.7,355.9 L1046.1,355.8 L1051.7,355.8 L1057.3,355.7 L1062.9,355.7 L1068.4,355.6 L1069.8,355.6 L1074.0,355.6 L1079.6,355.5 L1085.2,355.5 L1090.8,355.5 L1096.2,355.4 L1096.3,355.4 L1101.9,355.4 L1107.5,355.3 L1113.1,355.3 L1118.7,355.3 L1123.0,355.2 L1124.2,355.2 L1129.8,355.2 L1135.4,355.2 L1141.0,355.1 L1146.6,355.1 L1150.3,355.1 L1152.2,355.1 L1157.7,355.0 L1163.3,355.0 L1168.9,355.0 L1174.5,354.9 L1178.0,354.9 L1180.1,354.9 L1185.6,354.9 L1191.2,354.8 L1196.8,354.8 L1202.4,354.8 L1206.1,354.8 L1208.0,354.8 L1213.5,354.7 L1219.1,354.7 L1224.7,354.7 L1230.3,354.7 L1234.8,354.6 L1235.9,354.6 L1241.5,354.6 L1247.0,354.6 L1252.6,354.6 L1258.2,354.6 L1263.8,354.5 L1263.8,354.5 L1269.4,354.5 L1274.9,354.5 L1280.5,354.5 L1286.1,354.5 L1291.7,354.4 L1293.3,354.4 L1297.3,354.4 L1302.8,354.4 L1308.4,354.4 L1314.0,354.4 L1319.6,354.3 L1323.3,354.3 L1325.2,354.3 L1330.8,354.3 L1336.3,354.3 L1341.9,354.3 L1347.5,354.2 L1353.1,354.2 L1353.8,354.2 L1358.7,354.2 L1364.2,354.2 L1369.8,354.2 L1375.4,354.2 L1381.0,354.1 L1384.8,354.1 L1386.6,354.1 L1392.1,354.1 L1397.7,354.1 L1403.3,354.1 L1408.9,354.1 L1414.5,354.1 L1416.3,354.1 L1420.1,354.0 L1425.6,354.0 L1431.2,354.0 L1436.8,354.0 L1442.4,354.0 L1448.0,354.0 L1448.2,354.0 L1453.5,354.0 L1459.1,354.0 L1464.7,354.0 L1470.3,354.0 L1475.9,353.9 L1480.7,353.9 L1481.4,353.9 L1487.0,353.9 L1492.6,353.9 L1498.2,353.9 L1503.8,353.9 L1509.4,353.9 L1513.7,353.9 L1514.9,353.9 L1520.5,353.9 L1526.1,353.9 L1531.7,353.9 L1537.3,353.9 L1542.8,353.9 L1547.3,353.9 L1548.4,353.9 L1554.0,353.9 L1559.6,353.9 L1565.2,353.9 L1570.7,353.9 L1576.3,353.9 L1581.3,353.9 L1581.9,353.9 L1587.5,353.9 L1593.1,353.9 L1598.7,353.9 L1604.2,353.9 L1609.8,353.9 L1615.4,353.9 L1615.9,353.9 L1621.0,353.9 L1626.6,353.9 L1632.1,353.9 L1637.7,353.9 L1643.3,353.9 L1648.9,353.9 L1651.1,353.9 L1654.5,353.9 L1660.0,353.9 L1665.6,353.9 L1671.2,353.9 L1676.8,353.9 L1682.4,353.9 L1686.9,353.9 L1688.0,353.9 L1693.5,353.9 L1699.1,353.9 L1704.7,353.9 L1710.3,353.9 L1715.9,353.9 L1721.4,353.9 L1723.2,353.9 L1727.0,353.9 L1732.6,353.9 L1738.2,353.9 L1743.8,353.9 L1749.3,353.9 L1754.9,353.9 L1760.1,353.9 L1760.5,353.9 L1766.1,353.9 L1771.7,353.9 L1777.3,353.9 L1782.8,353.9 L1788.4,353.9 L1794.0,353.9 L1797.5,353.9 L1799.6,353.9 L1805.2,353.9 L1810.7,353.9 L1816.3,353.9 L1821.9,353.9 L1827.5,353.9 L1833.1,353.9 L1835.6,353.9 L1838.6,353.9 L1844.2,353.9 L1849.8,353.9 L1855.4,353.9 L1861.0,353.9 L1866.6,353.9 L1872.1,353.9 L1874.3,353.9 L1877.7,353.9 L1883.3,353.9 L1888.9,353.9 L1894.5,353.9 L1900.0,353.9 L1905.6,354.0 L1911.2,354.0 L1913.6,354.0 L1916.8,354.0 L1922.4,354.0 L1927.9,354.0 L1933.5,354.0 L1939.1,354.0 L1944.7,354.0 L1950.3,354.0 L1953.6,354.0 L1955.9,354.0 L1961.4,354.0 L1967.0,354.0 L1972.6,354.0 L1978.2,354.0 L1983.8,354.0 L1989.3,354.1 L1994.1,354.1 L1994.9,354.1 L2000.5,354.1 L2006.1,354.1 L2011.7,354.1 L2017.2,354.1 L2022.8,354.1 L2028.4,354.1 L2034.0,354.1 L2035.4,354.1 L2039.6,354.1 L2045.1,354.1 L2050.7,354.1 L2056.3,354.2 L2061.9,354.2 L2067.5,354.2 L2073.1,354.2 L2077.3,354.2 L2078.6,354.2 L2084.2,354.2 L2089.8,354.2 L2095.4,354.2 L2101.0,354.2 L2106.5,354.2 L2112.1,354.2 L2117.7,354.2 L2119.8,354.2 L2123.3,354.2 L2128.9,354.2 L2134.4,354.3 L2140.0,354.3 L2145.6,354.3 L2151.2,354.3 L2156.8,354.3 L2162.4,354.3 L2163.1,354.3 L2167.9,354.3 L2173.5,354.3 L2179.1,354.3 L2184.7,354.3 L2190.3,354.3 L2195.8,354.3 L2201.4,354.3 L2207.0,354.3"/>
<path stroke="#1a6fdf" d="M389.6,1000.0 L389.6,1000.0 L389.6,1000.0 L389.6,1000.0 L389.6,999.9 L389.6,999.9 L389.6,999.9 L389.6,999.9 L389.6,999.9 L389.6,999.8 L389.6,999.8 L389.6,999.8 L389.6,999.8 L389.6,999.8 L389.6,999.7 L389.6,999.7 L389.6,999.7 L389.6,999.7 L389.6,999.7 L389.6,999.6 L389.6,999.6 L389.6,999.6 L389.6,999.6 L389.6,999.6 L389.6,999.5 L389.6,999.5 L389.6,999.5 L389.6,999.5 L389.6,999.4 L389.6,999.4 L389.6,999.4 L389.6,999.4 L389.6,999.3 L389.6,999.3 L389.6,999.3 L389.6,999.3 L389.6,999.2 L389.6,999.2 L389.6,999.2 L389.6,999.1 L389.6,999.1 L389.6,999.1 L389.6,999.1 L389.6,999.0 L389.6,999.0 L389.6,999.0 L389.6,998.9 L389.6,998.9 L389.6,998.9 L389.6,998.8 L389.6,998.8 L389.6,998.8 L389.6,998.7 L389.6,998.7 L389.6,998.6 L389.6,998.6 L389.6,998.6 L389.6,998.5 L389.6,998.5 L389.6,998.5 L389.6,998.4 L389.6,998.4 L389.6,998.3 L389.6,998.3 L389.6,998.2 L389.6,998.2 L389.6,998.2 L389.6,998.1 L389.6,998.1 L389.6,998.0 L389.6,998.0 L389.6,997.9 L389.6,997.9 L389.6,997.8 L389.6,997.8 L389.6,997.7 L389.6,997.7 L389.6,997.6 L389.6,997.6 L389.6,997.5 L389.6,997.5 L389.6,997.4 L389.6,997.4 L389.6,997.3 L389.6,997.2 L389.6,997.2 L389.6,997.1 L389.6,997.1 L389.6,997.0 L389.6,996.9 L389.6,996.9 L389.6,996.8 L389.6,996.7 L389.6,996.7 L389.6,996.6 L389.6,996.5 L389.6,996.5 L389.6,996.4 L389.6,996.3 L389.6,996.3 L389.6,996.2 L389.6,996.1 L389.6,996.0 L389.6,996.0 L389.6,995.9 L389.6,995.8 L389.6,995.7 L389.6,995.6 L389.6,995.6 L389.6,995.6 L389.6,995.5 L389.6,995.4 L389.6,995.3 L389.6,995.2 L389.6,995.1 L389.6,995.0 L389.6,994.9 L389.6,994.8 L389.6,994.7 L389.6,994.6 L389.6,994.5 L389.6,994.4 L389.6,994.3 L389.6,994.2 L389.6,994.1 L389.6,994.0 L389.6,993.9 L389.6,993.8 L389.6,993.7 L389.6,993.6 L389.6,993.5 L389.6,993.4 L389.6,993.2 L389.6,993.1 L389.6,993.0 L389.6,992.9 L389.6,992.7 L389.6,992.6 L389.6,992.5 L389.6,992.4 L389.6,992.2 L389.6,992.1 L389.6,991.9 L389.6,991.8 L389.6,991.7 L389.6,991.5 L389.6,991.4 L389.6,991.2 L389.6,991.2 L389.6,991.1 L389.6,990.9 L389.6,990.8 L389.6,990.6 L389.6,990.4 L389.6,990.3 L389.6,990.1 L389.6,989.9 L389.6,989.8 L389.6,989.6 L389.6,989.4 L389.6,989.2 L389.6,989.1 L389.6,988.9 L389.6,988.7 L389.6,988.5 L389.6,988.3 L389.6,988.1 L389.6,987.9 L389.6,987.7 L389.6,987.5 L389.6,987.3 L389.6,987.1 L389.6,986.9 L389.6,986.8 L389.6,986.6 L389.6,986.4 L389.6,986.2 L389.6,986.0 L389.6,985.7 L389.6,985.5 L389.6,985.3 L389.6,985.0 L389.6,984.8 L389.6,984.5 L389.6,984.3 L389.6,984.0 L389.6,983.7 L389.6,983.5 L389.6,983.2 L389.6,982.9 L389.6,982.7 L389.6,982.4 L389.6,982.4 L389.6,982.1 L389.6,981.8 L389.6,981.5 L389.6,981.2 L389.6,980.9 L389.6,980.6 L389.6,980.3 L389.6,980.0 L389.6,979.6 L389.6,979.3 L389.6,979.0 L389.6,978.6 L389.6,978.3 L389.6,978.0 L389.6,977.9 L389.6,977.6 L389.6,977.2 L389.6,976.8 L389.6,976.5 L389.6,976.1 L389.6,975.7 L389.6,975.3 L389.6,974.9 L389.6,974.5 L389.6,974.1 L389.6,973.7 L389.6,973.7 L389.6,973.3 L389.6,972.9 L389.6,972.4 L389.6,972.0 L389.6,971.5 L389.6,971.1 L389.6,970.6 L389.6,970.2 L389.6,969.7 L389.6,969.3 L389.6,969.2 L389.6,968.7 L389.6,968.2 L389.6,967.7 L389.6,967.2 L389.6,966.7 L389.6,966.2 L389.6,965.6 L389.6,965.1 L389.6,965.0 L389.6,964.5 L389.6,964.0 L389.6,963.4 L389.6,962.8 L389.6,962.3 L389.6,961.7 L389.6,961.1 L389.6,960.6 L389.6,960.4 L389.6,959.8 L389.6,959.2 L389.6,958.6 L389.6,957.9 L389.6,957.2 L389.6,956.6 L389.6,956.3 L389.6,955.9 L389.6,955.2 L389.6,954.5 L389.6,953.8 L389.6,953.1 L389.6,952.3 L389.6,952.0 L389.6,951.6 L389.6,950.8 L389.6,950.1 L389.6,949.3 L389.6,948.5 L389.6,947.7 L389.6,947.6 L389.6,946.9 L389.6,946.1 L389.6,945.2 L389.6,944.4 L389.6,943.5 L389.6,943.3 L389.6,942.6 L389.6,941.7 L389.6,940.8 L389.6,939.9 L389.6,939.0 L389.6,939.0 L389.6,938.0 L389.6,937.1 L389.6,936.1 L389.6,935.1 L389.6,934.7 L389.6,934.1 L389.6,933.1 L389.6,932.0 L389.6,931.0 L389.6,930.5 L389.6,929.9 L389.6,928.8 L389.6,927.7 L389.6,926.6 L389.6,926.2 L389.6,925.5 L389.6,924.4 L389.6,923.2 L389.6,922.0 L389.6,921.9 L389.6,920.8 L389.6,919.6 L389.6,918.3 L389.6,917.6 L389.6,917.1 L389.6,915.8 L389.6,914.5 L389.6,913.4 L389.6,913.2 L389.6,911.9 L389.6,910.5 L389.6,909.2 L389.6,909.1 L389.6,907.8 L389.6,906.4 L389.6,904.9 L389.6,904.9 L389.6,903.5 L389.6,902.0 L389.6,900.6 L389.6,900.5 L389.6,899.0 L389.6,897.4 L389.6,896.4 L389.6,895.8 L389.6,894.3 L389.6,892.6 L389.6,892.2 L389.6,891.0 L389.6,889.3 L389.6,888.0 L389.6,887.7 L389.6,885.9 L389.6,884.2 L389.6,883.8 L389.6,882.4 L389.6,880.7 L389.6,879.6 L389.6,878.8 L389.6,877.0 L389.6,875.4 L389.6,875.1 L389.6,873.2 L389.6,871.3 L389.6,871.2 L389.6,869.3 L389.6,867.4 L389.6,867.0 L389.6,865.4 L389.6,863.3 L389.6,862.8 L389.6,861.2 L389.6,859.1 L389.6,858.6 L389.7,857.0 L389.7,854.8 L389.7,854.5 L389.7,852.6 L389.7,850.4 L389.7,850.3 L389.7,848.1 L389.7,846.1 L389.7,845.8 L389.7,843.5 L389.7,842.0 L389.7,841.2 L389.7,838.8 L389.7,837.8 L389.7,836.3 L389.7,833.8 L389.7,833.7 L389.7,831.3 L389.7,829.5 L389.7,828.8 L389.7,826.2 L389.7,825.4 L389.7,823.6 L389.7,821.3 L389.7,820.9 L389.7,818.2 L389.7,817.2 L389.7,815.5 L389.7,813.0 L389.7,812.7 L389.7,809.9 L389.7,808.9 L389.7,807.1 L389.7,804.8 L389.7,804.2 L389.7,801.2 L389.7,800.7 L389.7,798.2 L389.7,796.6 L389.7,795.2 L389.8,792.5 L389.8,792.1 L389.8,789.0 L389.8,788.4 L389.8,785.8 L389.8,784.3 L389.8,782.6 L389.8,780.2 L389.8,779.4 L389.8,776.1 L389.8,776.0 L389.8,772.7 L389.8,772.1 L389.8,769.3 L389.8,768.0 L389.8,765.8 L389.8,763.9 L389.8,762.3 L389.8,759.8 L389.8,758.8 L389.9,755.8 L389.9,755.1 L389.9,751.7 L389.9,751.5 L389.9,747.8 L389.9,747.6 L389.9,744.0 L389.9,743.6 L390.1,740.2 L390.4,739.5 L391.7,736.3 L392.0,735.5 L393.6,732.5 L394.1,732.0 L396.8,730.7 L397.8,730.4 L401.1,729.4 L402.0,729.1 L405.3,728.3 L406.2,728.0 L409.2,726.6 L409.8,726.1 L412.5,723.6 L412.9,723.3 L415.7,720.4 L415.9,720.3 L418.9,717.3 L419.0,717.3 L422.1,714.6 L422.5,714.3 L425.4,712.0 L426.2,711.4 L428.8,709.6 L430.1,708.6 L432.3,707.2 L434.1,706.0 L435.8,704.9 L438.4,703.4 L439.4,702.8 L442.8,701.1 L443.2,700.9 L447.0,699.1 L447.4,698.9 L450.8,697.4 L452.1,696.9 L454.7,695.8 L456.9,694.9 L458.6,694.3 L461.9,693.0 L462.5,692.7 L466.5,691.3 L466.9,691.1 L470.5,689.9 L472.1,689.4 L474.5,688.6 L477.4,687.7 L478.4,687.3 L482.4,685.9 L482.8,685.8 L486.4,684.6 L488.2,684.1 L490.4,683.4 L493.8,682.4 L494.5,682.2 L498.5,681.0 L499.5,680.7 L502.5,679.9 L505.3,679.2 L506.6,678.8 L510.7,677.8 L511.2,677.6 L514.7,676.7 L517.2,676.1 L518.8,675.7 L522.9,674.8 L523.3,674.7 L527.0,673.8 L529.5,673.3 L531.1,673.0 L535.2,672.1 L535.9,672.0 L539.4,671.3 L542.3,670.8 L543.5,670.5 L547.6,669.8 L548.9,669.5 L551.8,669.0 L555.6,668.4 L555.9,668.3 L560.1,667.6 L562.4,667.3 L564.2,667.0 L568.4,666.4 L569.3,666.3 L572.5,665.8 L576.4,665.3 L576.7,665.3 L580.9,664.7 L583.5,664.4 L585.0,664.2 L589.2,663.7 L590.8,663.6 L593.4,663.3 L597.6,662.9 L598.2,662.8 L601.8,662.5 L605.7,662.2 L606.0,662.2 L610.1,661.9 L613.4,661.6 L614.3,661.6 L618.5,661.3 L621.1,661.2 L622.7,661.1 L626.9,660.8 L629.1,660.7 L631.1,660.6 L635.3,660.4 L637.1,660.3 L639.5,660.2 L643.7,660.0 L645.2,659.9 L647.9,659.8 L652.1,659.7 L653.5,659.6 L656.3,659.5 L660.5,659.3 L661.9,659.3 L664.7,659.2 L668.9,659.0 L670.4,659.0 L673.1,658.9 L677.3,658.8 L679.1,658.7 L681.5,658.6 L685.7,658.5 L687.9,658.5 L689.9,658.4 L694.1,658.4 L696.9,658.3 L698.3,658.3 L702.5,658.2 L705.9,658.2 L706.7,658.2 L710.9,658.1 L715.1,658.1 L715.2,658.1 L719.3,658.0 L723.5,658.0 L724.5,658.0 L727.7,657.9 L731.9,657.9 L734.0,657.9 L736.1,657.9 L740.4,657.8 L743.7,657.8 L744.6,657.8 L748.8,657.8 L753.0,657.7 L753.5,657.7 L757.2,657.7 L761.4,657.7 L763.4,657.7 L765.6,657.7 L769.8,657.7 L773.6,657.7 L774.0,657.7 L778.2,657.7 L782.4,657.7 L783.8,657.7 L786.6,657.7 L790.8,657.7 L794.2,657.7 L795.0,657.7 L799.2,657.7 L803.4,657.7 L804.8,657.7 L807.6,657.7 L811.8,657.7 L815.6,657.7 L816.0,657.7 L820.2,657.7 L824.4,657.7 L826.5,657.7 L828.6,657.7 L832.8,657.7 L837.0,657.7 L837.6,657.7 L841.2,657.7 L845.4,657.7 L848.8,657.7 L849.6,657.7 L853.8,657.8 L858.0,657.8 L860.3,657.8 L862.2,657.8 L866.4,657.8 L870.6,657.8 L871.9,657.8 L874.8,657.8 L879.0,657.8 L883.2,657.8 L883.6,657.8 L887.4,657.8 L891.6,657.8 L895.6,657.9 L895.8,657.9 L900.0,657.9 L904.2,657.9 L907.8,657.9 L908.5,657.9 L912.7,658.0 L916.9,658.0 L920.1,658.0 L921.1,658.0 L925.3,658.0 L929.5,658.1 L932.6,658.1 L933.7,658.1 L937.9,658.1 L942.1,658.2 L945.3,658.2 L946.3,658.2 L950.5,658.2 L954.7,658.3 L958.3,658.3 L958.9,658.3 L963.1,658.4 L967.3,658.4 L971.4,658.4 L971.5,658.4 L975.7,658.5 L979.9,658.5 L984.1,658.5 L984.7,658.5 L988.3,658.6 L992.5,658.6 L996.7,658.6 L998.2,658.7 L1000.9,658.7 L1005.1,658.7 L1009.3,658.8 L1012.0,658.8 L1013.5,658.8 L1017.7,658.9 L1021.9,658.9 L1025.9,658.9 L1026.1,658.9 L1030.3,659.0 L1034.5,659.0 L1038.7,659.1 L1040.1,659.1 L1042.9,659.1 L1047.1,659.2 L1051.3,659.2 L1054.5,659.3 L1055.5,659.3 L1059.7,659.3 L1063.9,659.4 L1068.1,659.4 L1069.1,659.5 L1072.3,659.5 L1076.5,659.5 L1080.7,659.6 L1083.9,659.6 L1084.9,659.6 L1089.2,659.7 L1093.4,659.7 L1097.6,659.8 L1098.9,659.8 L1101.8,659.8 L1106.0,659.9 L1110.2,659.9 L1114.2,660.0 L1114.4,660.0 L1118.6,660.0 L1122.8,660.1 L1127.0,660.1 L1129.8,660.1 L1131.2,660.2 L1135.4,660.2 L1139.6,660.3 L1143.8,660.3 L1145.5,660.3 L1148.0,660.3 L1152.2,660.4 L1156.4,660.4 L1160.6,660.5 L1161.5,660.5 L1164.8,660.5 L1169.0,660.6 L1173.2,660.6 L1177.4,660.7 L1177.8,660.7 L1181.6,660.7 L1185.8,660.8 L1190.0,660.8 L1194.2,660.8 L1194.3,660.8 L1198.4,660.9 L1202.6,660.9 L1206.8,661.0 L1211.0,661.0 L1211.1,661.0 L1215.2,661.1 L1219.4,661.1 L1223.6,661.2 L1227.8,661.2 L1228.1,661.2 L1232.0,661.2 L1236.2,661.3 L1240.4,661.3 L1244.6,661.4 L1245.4,661.4 L1248.8,661.4 L1253.0,661.4 L1257.2,661.5 L1261.4,661.5 L1262.9,661.5 L1265.6,661.6 L1269.9,661.6 L1274.1,661.6 L1278.3,661.7 L1280.8,661.7 L1282.5,661.7 L1286.7,661.7 L1290.9,661.8 L1295.1,661.8 L1298.9,661.8 L1299.3,661.8 L1303.5,661.9 L1307.7,661.9 L1311.9,661.9 L1316.1,662.0 L1317.2,662.0 L1320.3,662.0 L1324.5,662.1 L1328.7,662.1 L1332.9,662.1 L1335.9,662.1 L1337.1,662.2 L1341.3,662.2 L1345.5,662.2 L1349.7,662.3 L1353.9,662.3 L1354.8,662.3 L1358.1,662.3 L1362.3,662.4 L1366.5,662.4 L1370.7,662.4 L1374.1,662.4 L1374.9,662.5 L1379.1,662.5 L1383.3,662.5 L1387.5,662.6 L1391.7,662.6 L1393.6,662.6 L1395.9,662.6 L1400.1,662.6 L1404.3,662.7 L1408.5,662.7 L1412.7,662.7 L1413.5,662.7 L1416.9,662.8 L1421.1,662.8 L1425.3,662.8 L1429.5,662.9 L1433.6,662.9 L1433.7,662.9 L1437.9,662.9 L1442.1,663.0 L1446.4,663.0 L1450.6,663.0 L1454.1,663.0 L1454.8,663.0 L1459.0,663.1 L1463.2,663.1 L1467.4,663.1 L1471.6,663.2 L1474.9,663.2 L1475.8,663.2 L1480.0,663.2 L1484.2,663.2 L1488.4,663.3 L1492.6,663.3 L1496.0,663.3 L1496.8,663.3 L1501.0,663.4 L1505.2,663.4 L1509.4,663.4 L1513.6,663.5 L1517.4,663.5 L1517.8,663.5 L1522.0,663.5 L1526.2,663.5 L1530.4,663.6 L1534.6,663.6 L1538.8,663.6 L1539.1,663.6 L1543.0,663.7 L1547.2,663.7 L1551.4,663.7 L1555.6,663.7 L1559.8,663.8 L1561.2,663.8 L1564.0,663.8 L1568.2,663.8 L1572.4,663.9 L1576.6,663.9 L1580.8,663.9 L1583.7,663.9 L1585.0,663.9 L1589.2,664.0 L1593.4,664.0 L1597.6,664.0 L1601.8,664.0 L1606.0,664.1 L1606.4,664.1 L1610.2,664.1 L1614.4,664.1 L1618.7,664.2 L1622.9,664.2 L1627.1,664.2 L1629.6,664.2 L1631.3,664.2 L1635.5,664.3 L1639.7,664.3 L1643.9,664.3 L1648.1,664.3 L1652.3,664.4 L1653.1,664.4 L1656.5,664.4 L1660.7,664.4 L1664.9,664.5 L1669.1,664.5 L1673.3,664.5 L1676.9,664.5 L1677.5,664.5 L1681.7,664.6 L1685.9,664.6 L1690.1,664.6 L1694.3,664.6 L1698.5,664.7 L1701.1,664.7 L1702.7,664.7 L1706.9,664.7 L1711.1,664.7 L1715.3,664.8 L1719.5,664.8 L1723.7,664.8 L1725.7,664.8 L1727.9,664.8 L1732.1,664.9 L1736.3,664.9 L1740.5,664.9 L1744.7,664.9 L1748.9,664.9 L1750.7,665.0 L1753.1,665.0 L1757.3,665.0 L1761.5,665.0 L1765.7,665.0 L1769.9,665.1 L1774.1,665.1 L1776.1,665.1 L1778.3,665.1 L1782.5,665.1 L1786.7,665.1 L1791.0,665.2 L1795.2,665.2 L1799.4,665.2 L1801.8,665.2 L1803.6,665.2 L1807.8,665.2 L1812.0,665.3 L1816.2,665.3 L1820.4,665.3 L1824.6,665.3 L1827.9,665.3 L1828.8,665.3 L1833.0,665.3 L1837.2,665.4 L1841.4,665.4 L1845.6,665.4 L1849.8,665.4 L1854.0,665.4 L1854.5,665.4 L1858.2,665.5 L1862.4,665.5 L1866.6,665.5 L1870.8,665.5 L1875.0,665.5 L1879.2,665.5 L1881.5,665.5 L1883.4,665.6 L1887.6,665.6 L1891.8,665.6 L1896.0,665.6 L1900.2,665.6 L1904.4,665.6 L1908.6,665.7 L1908.8,665.7 L1912.8,665.7 L1917.0,665.7 L1921.2,665.7 L1925.4,665.7 L1929.6,665.7 L1933.8,665.7 L1936.6,665.8 L1938.0,665.8 L1942.2,665.8 L1946.4,665.8 L1950.6,665.8 L1954.8,665.8 L1959.1,665.8 L1963.3,665.9 L1964.9,665.9 L1967.5,665.9 L1971.7,665.9 L1975.9,665.9 L1980.1,665.9 L1984.3,665.9 L1988.5,665.9 L1992.7,666.0 L1993.5,666.0 L1996.9,666.0 L2001.1,666.0 L2005.3,666.0 L2009.5,666.0 L2013.7,666.0 L2017.9,666.0 L2022.1,666.1 L2022.7,666.1 L2026.3,666.1 L2030.5,666.1 L2034.7,666.1 L2038.9,666.1 L2043.1,666.1 L2047.3,666.1 L2051.5,666.2 L2052.2,666.2 L2055.7,666.2 L2059.9,666.2 L2064.1,666.2 L2068.3,666.2 L2072.5,666.2 L2076.7,666.2 L2080.9,666.3 L2082.2,666.3 L2085.1,666.3 L2089.3,666.3 L2093.5,666.3 L2097.7,666.3 L2101.9,666.3 L2106.1,666.3 L2110.3,666.4 L2112.7,666.4 L2114.5,666.4 L2118.7,666.4 L2122.9,666.4 L2127.2,666.4 L2131.4,666.4 L2135.6,666.4 L2139.8,666.5 L2143.7,666.5 L2144.0,666.5 L2148.2,666.5 L2152.4,666.5 L2156.6,666.5 L2160.8,666.5 L2165.0,666.6 L2169.2,666.6 L2173.4,666.6 L2175.1,666.6 L2177.6,666.6 L2181.8,666.6 L2186.0,666.6 L2190.2,666.6 L2194.4,666.7 L2198.6,666.7 L2202.8,666.7 L2207.0,666.7"/>
<path stroke="#37ad6b" d="M388.5,1017.6 L388.5,1017.6 L388.5,1017.6 L388.5,1017.5 L388.5,1017.5 L388.5,1017.5 L388.5,1017.5 L388.5,1017.5 L388.5,1017.5 L388.5,1017.4 L388.5,1017.4 L388.5,1017.4 L388.5,1017.4 L388.5,1017.4 L388.5,1017.3 L388.5,1017.3 L388.5,1017.3 L388.5,1017.3 L388.5,1017.3 L388.5,1017.2 L388.5,1017.2 L388.5,1017.2 L388.5,1017.2 L388.5,1017.2 L388.5,1017.1 L388.5,1017.1 L388.5,1017.1 L388.5,1017.1 L388.5,1017.0 L388.5,1017.0 L388.5,1017.0 L388.5,1017.0 L388.5,1016.9 L388.5,1016.9 L388.5,1016.9 L388.5,1016.8 L388.5,1016.8 L388.5,1016.8 L388.5,1016.8 L388.5,1016.7 L388.5,1016.7 L388.5,1016.7 L388.5,1016.6 L388.5,1016.6 L388.5,1016.6 L388.5,1016.5 L388.5,1016.5 L388.5,1016.5 L388.5,1016.4 L388.5,1016.4 L388.5,1016.4 L388.5,1016.3 L388.5,1016.3 L388.5,1016.3 L388.5,1016.2 L388.5,1016.2 L388.5,1016.2 L388.5,1016.1 L388.5,1016.1 L388.5,1016.0 L388.5,1016.0 L388.5,1016.0 L388.5,1015.9 L388.5,1015.9 L388.5,1015.8 L388.5,1015.8 L388.5,1015.8 L388.5,1015.7 L388.5,1015.7 L388.5,1015.6 L388.5,1015.6 L388.5,1015.5 L388.5,1015.5 L388.5,1015.4 L388.5,1015.4 L388.5,1015.3 L388.5,1015.3 L388.5,1015.2 L388.5,1015.2 L388.5,1015.1 L388.5,1015.1 L388.5,1015.0 L388.5,1015.0 L388.5,1014.9 L388.5,1014.8 L388.5,1014.8 L388.5,1014.7 L388.5,1014.7 L388.5,1014.6 L388.5,1014.5 L388.5,1014.5 L388.5,1014.4 L388.5,1014.3 L388.5,1014.3 L388.5,1014.2 L388.5,1014.1 L388.5,1014.1 L388.5,1014.0 L388.5,1013.9 L388.5,1013.9 L388.5,1013.8 L388.5,1013.7 L388.5,1013.6 L388.5,1013.6 L388.5,1013.5 L388.5,1013.5 L388.5,1013.4 L388.5,1013.3 L388.5,1013.2 L388.5,1013.2 L388.5,1013.1 L388.5,1013.0 L388.5,1012.9 L388.5,1012.8 L388.5,1012.7 L388.5,1012.6 L388.5,1012.5 L388.5,1012.5 L388.5,1012.4 L388.5,1012.3 L388.5,1012.2 L388.5,1012.1 L388.5,1012.0 L388.5,1011.9 L388.5,1011.8 L388.5,1011.7 L388.5,1011.5 L388.5,1011.4 L388.5,1011.3 L388.5,1011.2 L388.5,1011.1 L388.5,1011.0 L388.5,1010.9 L388.5,1010.8 L388.5,1010.6 L388.5,1010.5 L388.5,1010.4 L388.5,1010.3 L388.5,1010.1 L388.5,1010.0 L388.5,1009.9 L388.5,1009.7 L388.5,1009.6 L388.5,1009.5 L388.5,1009.3 L388.5,1009.3 L388.5,1009.2 L388.5,1009.0 L388.5,1008.9 L388.5,1008.8 L388.5,1008.6 L388.5,1008.4 L388.5,1008.3 L388.5,1008.1 L388.5,1008.0 L388.5,1007.8 L388.5,1007.6 L388.5,1007.5 L388.5,1007.3 L388.5,1007.1 L388.5,1007.0 L388.5,1006.8 L388.5,1006.6 L388.5,1006.4 L388.5,1006.2 L388.5,1006.1 L388.5,1005.9 L388.5,1005.7 L388.5,1005.5 L388.5,1005.3 L388.5,1005.2 L388.5,1005.1 L388.5,1004.9 L388.5,1004.7 L388.5,1004.4 L388.5,1004.2 L388.5,1004.0 L388.5,1003.8 L388.5,1003.6 L388.5,1003.3 L388.5,1003.1 L388.5,1002.9 L388.5,1002.6 L388.5,1002.4 L388.5,1002.1 L388.5,1001.9 L388.5,1001.6 L388.5,1001.4 L388.5,1001.2 L388.5,1001.1 L388.5,1000.9 L388.5,1000.6 L388.5,1000.3 L388.5,1000.0 L388.5,999.8 L388.5,999.5 L388.5,999.2 L388.5,998.9 L388.5,998.6 L388.5,998.3 L388.5,998.0 L388.5,997.7 L388.5,997.4 L388.5,997.1 L388.5,997.0 L388.5,996.7 L388.5,996.4 L388.5,996.1 L388.5,995.7 L388.5,995.4 L388.5,995.0 L388.5,994.7 L388.5,994.3 L388.5,993.9 L388.5,993.6 L388.5,993.2 L388.5,993.1 L388.5,992.8 L388.5,992.4 L388.5,992.0 L388.5,991.6 L388.5,991.2 L388.5,990.8 L388.5,990.4 L388.5,990.0 L388.5,989.5 L388.5,989.1 L388.5,989.1 L388.5,988.7 L388.5,988.2 L388.5,987.8 L388.5,987.3 L388.5,986.8 L388.5,986.4 L388.5,985.9 L388.5,985.4 L388.5,985.2 L388.5,984.9 L388.5,984.4 L388.5,983.9 L388.5,983.4 L388.5,982.8 L388.5,982.3 L388.5,981.8 L388.5,981.2 L388.5,981.2 L388.5,980.7 L388.5,980.1 L388.5,979.5 L388.5,978.9 L388.5,978.4 L388.5,977.8 L388.5,977.3 L388.5,977.1 L388.5,976.5 L388.5,975.9 L388.5,975.3 L388.5,974.6 L388.5,974.0 L388.5,973.4 L388.5,973.3 L388.5,972.6 L388.5,972.0 L388.5,971.3 L388.5,970.6 L388.5,969.9 L388.5,969.5 L388.5,969.1 L388.5,968.4 L388.5,967.7 L388.5,966.9 L388.5,966.2 L388.6,965.6 L388.6,965.4 L388.6,964.6 L388.6,963.8 L388.6,963.0 L388.6,962.2 L388.6,961.8 L388.6,961.4 L388.6,960.5 L388.6,959.7 L388.6,958.8 L388.6,958.0 L388.6,957.9 L388.6,957.0 L388.6,956.1 L388.6,955.2 L388.6,954.3 L388.6,954.2 L388.6,953.3 L388.6,952.4 L388.6,951.4 L388.6,950.4 L388.6,950.4 L388.6,949.4 L388.6,948.4 L388.6,947.4 L388.6,946.6 L388.6,946.4 L388.6,945.3 L388.6,944.2 L388.6,943.1 L388.6,942.8 L388.6,942.0 L388.7,940.9 L388.7,939.8 L388.7,939.1 L388.7,938.6 L388.7,937.5 L388.7,936.3 L388.7,935.3 L388.7,935.1 L388.7,933.9 L388.7,932.7 L388.7,931.6 L388.7,931.4 L388.7,930.2 L388.7,928.9 L388.7,927.9 L388.8,927.6 L388.8,926.2 L388.8,924.9 L388.8,924.2 L388.8,923.5 L388.8,922.2 L388.8,920.8 L388.8,920.5 L388.8,919.4 L388.8,917.9 L388.9,916.8 L388.9,916.5 L388.9,915.0 L388.9,913.5 L388.9,913.2 L389.0,912.0 L389.6,910.4 L390.1,909.6 L390.5,909.0 L391.6,907.8 L392.8,906.8 L392.9,906.6 L394.3,905.7 L395.8,904.8 L396.0,904.7 L397.4,904.0 L399.0,903.2 L399.5,903.0 L400.8,902.5 L402.5,901.7 L403.1,901.5 L404.3,901.0 L406.1,900.3 L406.7,900.1 L407.9,899.6 L409.8,898.9 L410.3,898.7 L411.7,898.2 L413.6,897.6 L414.0,897.5 L415.6,897.0 L417.6,896.4 L417.7,896.3 L419.7,895.8 L421.4,895.3 L421.8,895.2 L423.9,894.7 L425.2,894.4 L426.1,894.2 L428.3,893.7 L429.0,893.6 L430.6,893.3 L432.7,892.8 L432.9,892.8 L435.2,892.4 L436.5,892.1 L437.6,891.9 L440.0,891.5 L440.4,891.4 L442.5,891.1 L444.2,890.8 L445.0,890.7 L447.5,890.3 L448.0,890.2 L450.1,889.9 L451.8,889.6 L452.7,889.5 L455.4,889.1 L455.6,889.1 L458.1,888.8 L459.5,888.6 L460.8,888.4 L463.3,888.1 L463.6,888.1 L466.5,887.7 L467.2,887.6 L469.4,887.4 L471.0,887.2 L472.3,887.1 L474.9,886.8 L475.3,886.8 L478.3,886.6 L478.7,886.5 L481.3,886.3 L482.6,886.2 L484.5,886.1 L486.4,885.9 L487.6,885.9 L490.3,885.7 L490.9,885.6 L494.1,885.4 L494.1,885.4 L497.4,885.2 L498.0,885.2 L500.8,885.0 L501.9,884.9 L504.2,884.7 L505.7,884.6 L507.7,884.5 L509.6,884.4 L511.2,884.3 L513.4,884.1 L514.8,884.0 L517.3,883.9 L518.4,883.8 L521.1,883.6 L522.1,883.6 L525.0,883.4 L525.9,883.3 L528.9,883.2 L529.7,883.1 L532.7,882.9 L533.5,882.9 L536.6,882.7 L537.4,882.6 L540.5,882.5 L541.4,882.4 L544.3,882.2 L545.5,882.2 L548.2,882.0 L549.6,881.9 L552.0,881.8 L553.7,881.7 L555.9,881.5 L558.0,881.4 L559.8,881.3 L562.2,881.2 L563.6,881.1 L566.6,880.9 L567.5,880.9 L571.0,880.7 L571.3,880.7 L575.2,880.5 L575.5,880.4 L579.1,880.3 L580.1,880.2 L582.9,880.1 L584.7,880.0 L586.8,879.9 L589.4,879.8 L590.7,879.7 L594.2,879.5 L594.5,879.5 L598.4,879.4 L599.1,879.3 L602.2,879.2 L604.0,879.2 L606.1,879.1 L609.0,879.0 L610.0,879.0 L613.8,878.8 L614.1,878.8 L617.7,878.7 L619.2,878.7 L621.6,878.6 L624.4,878.5 L625.4,878.5 L629.3,878.4 L629.8,878.4 L633.2,878.3 L635.2,878.2 L637.0,878.2 L640.6,878.1 L640.9,878.1 L644.8,878.0 L646.2,877.9 L648.6,877.9 L651.8,877.8 L652.5,877.8 L656.3,877.7 L657.6,877.7 L660.2,877.6 L663.4,877.5 L664.1,877.5 L667.9,877.4 L669.3,877.4 L671.8,877.3 L675.3,877.3 L675.7,877.3 L679.5,877.2 L681.4,877.1 L683.4,877.1 L687.3,877.0 L687.6,877.0 L691.1,877.0 L693.9,876.9 L695.0,876.9 L698.9,876.8 L700.3,876.8 L702.7,876.7 L706.6,876.7 L706.7,876.7 L710.5,876.6 L713.3,876.6 L714.3,876.5 L718.2,876.5 L720.0,876.5 L722.1,876.4 L725.9,876.4 L726.8,876.3 L729.8,876.3 L733.6,876.2 L733.7,876.2 L737.5,876.2 L740.6,876.1 L741.4,876.1 L745.3,876.1 L747.7,876.0 L749.1,876.0 L753.0,876.0 L754.9,875.9 L756.9,875.9 L760.7,875.9 L762.2,875.8 L764.6,875.8 L768.5,875.8 L769.6,875.7 L772.3,875.7 L776.2,875.7 L777.2,875.7 L780.1,875.6 L783.9,875.6 L784.8,875.6 L787.8,875.5 L791.7,875.5 L792.6,875.5 L795.5,875.4 L799.4,875.4 L800.5,875.4 L803.3,875.3 L807.1,875.3 L808.5,875.3 L811.0,875.2 L814.9,875.2 L816.6,875.2 L818.7,875.2 L822.6,875.1 L824.9,875.1 L826.5,875.1 L830.3,875.0 L833.3,875.0 L834.2,875.0 L838.1,875.0 L841.8,874.9 L842.0,874.9 L845.8,874.9 L849.7,874.9 L850.4,874.8 L853.6,874.8 L857.4,874.8 L859.2,874.8 L861.3,874.8 L865.2,874.7 L868.1,874.7 L869.0,874.7 L872.9,874.7 L876.8,874.6 L877.1,874.6 L880.6,874.6 L884.5,874.6 L886.3,874.6 L888.4,874.6 L892.2,874.5 L895.6,874.5 L896.1,874.5 L900.0,874.5 L903.8,874.5 L905.1,874.5 L907.7,874.5 L911.6,874.4 L914.7,874.4 L915.4,874.4 L919.3,874.4 L923.2,874.4 L924.4,874.4 L927.0,874.4 L930.9,874.4 L934.3,874.3 L934.8,874.3 L938.6,874.3 L942.5,874.3 L944.4,874.3 L946.4,874.3 L950.2,874.3 L954.1,874.3 L954.6,874.3 L958.0,874.2 L961.8,874.2 L964.9,874.2 L965.7,874.2 L969.6,874.2 L973.4,874.2 L975.5,874.2 L977.3,874.2 L981.2,874.2 L985.0,874.1 L986.1,874.1 L988.9,874.1 L992.8,874.1 L996.6,874.1 L997.0,874.1 L1000.5,874.1 L1004.4,874.1 L1008.0,874.1 L1008.2,874.1 L1012.1,874.0 L1016.0,874.0 L1019.2,874.0 L1019.8,874.0 L1023.7,874.0 L1027.6,874.0 L1030.5,874.0 L1031.4,874.0 L1035.3,874.0 L1039.2,874.0 L1042.0,874.0 L1043.0,874.0 L1046.9,873.9 L1050.8,873.9 L1053.7,873.9 L1054.6,873.9 L1058.5,873.9 L1062.4,873.9 L1065.6,873.9 L1066.2,873.9 L1070.1,873.9 L1074.0,873.9 L1077.7,873.9 L1077.8,873.9 L1081.7,873.9 L1085.6,873.8 L1089.4,873.8 L1089.9,873.8 L1093.3,873.8 L1097.2,873.8 L1101.0,873.8 L1102.3,873.8 L1104.9,873.8 L1108.8,873.8 L1112.6,873.8 L1115.0,873.8 L1116.5,873.8 L1120.4,873.8 L1124.2,873.8 L1127.8,873.7 L1128.1,873.7 L1132.0,873.7 L1135.8,873.7 L1139.7,873.7 L1140.8,873.7 L1143.6,873.7 L1147.4,873.7 L1151.3,873.7 L1154.0,873.7 L1155.2,873.7 L1159.0,873.7 L1162.9,873.7 L1166.8,873.7 L1167.4,873.7 L1170.6,873.7 L1174.5,873.6 L1178.4,873.6 L1181.0,873.6 L1182.2,873.6 L1186.1,873.6 L1190.0,873.6 L1193.8,873.6 L1194.8,873.6 L1197.7,873.6 L1201.6,873.6 L1205.4,873.6 L1208.8,873.6 L1209.3,873.6 L1213.2,873.6 L1217.0,873.6 L1220.9,873.6 L1223.1,873.6 L1224.8,873.6 L1228.6,873.5 L1232.5,873.5 L1236.4,873.5 L1237.6,873.5 L1240.2,873.5 L1244.1,873.5 L1248.0,873.5 L1251.9,873.5 L1252.2,873.5 L1255.7,873.5 L1259.6,873.5 L1263.5,873.5 L1267.1,873.5 L1267.3,873.5 L1271.2,873.5 L1275.1,873.5 L1278.9,873.5 L1282.3,873.5 L1282.8,873.5 L1286.7,873.5 L1290.5,873.4 L1294.4,873.4 L1297.7,873.4 L1298.3,873.4 L1302.1,873.4 L1306.0,873.4 L1309.9,873.4 L1313.3,873.4 L1313.7,873.4 L1317.6,873.4 L1321.5,873.4 L1325.3,873.4 L1329.1,873.4 L1329.2,873.4 L1333.1,873.4 L1336.9,873.4 L1340.8,873.4 L1344.7,873.4 L1345.2,873.4 L1348.5,873.4 L1352.4,873.4 L1356.3,873.4 L1360.1,873.4 L1361.5,873.3 L1364.0,873.3 L1367.9,873.3 L1371.7,873.3 L1375.6,873.3 L1378.1,873.3 L1379.5,873.3 L1383.3,873.3 L1387.2,873.3 L1391.1,873.3 L1394.9,873.3 L1394.9,873.3 L1398.8,873.3 L1402.7,873.3 L1406.5,873.3 L1410.4,873.3 L1412.0,873.3 L1414.3,873.3 L1418.1,873.3 L1422.0,873.3 L1425.9,873.3 L1429.4,873.3 L1429.7,873.3 L1433.6,873.3 L1437.5,873.3 L1441.3,873.3 L1445.2,873.3 L1447.0,873.3 L1449.1,873.2 L1452.9,873.2 L1456.8,873.2 L1460.7,873.2 L1464.5,873.2 L1464.9,873.2 L1468.4,873.2 L1472.3,873.2 L1476.1,873.2 L1480.0,873.2 L1483.0,873.2 L1483.9,873.2 L1487.7,873.2 L1491.6,873.2 L1495.5,873.2 L1499.3,873.2 L1501.4,873.2 L1503.2,873.2 L1507.1,873.2 L1510.9,873.2 L1514.8,873.2 L1518.7,873.2 L1520.2,873.2 L1522.5,873.2 L1526.4,873.2 L1530.3,873.2 L1534.1,873.2 L1538.0,873.2 L1539.2,873.2 L1541.9,873.2 L1545.7,873.2 L1549.6,873.2 L1553.5,873.2 L1557.3,873.2 L1558.4,873.2 L1561.2,873.1 L1565.1,873.1 L1568.9,873.1 L1572.8,873.1 L1576.7,873.1 L1578.0,873.1 L1580.5,873.1 L1584.4,873.1 L1588.3,873.1 L1592.1,873.1 L1596.0,873.1 L1597.9,873.1 L1599.9,873.1 L1603.7,873.1 L1607.6,873.1 L1611.5,873.1 L1615.3,873.1 L1618.1,873.1 L1619.2,873.1 L1623.1,873.1 L1626.9,873.1 L1630.8,873.1 L1634.7,873.1 L1638.6,873.1 L1638.6,873.1 L1642.4,873.1 L1646.3,873.1 L1650.2,873.1 L1654.0,873.1 L1657.9,873.1 L1659.4,873.1 L1661.8,873.1 L1665.6,873.1 L1669.5,873.1 L1673.4,873.1 L1677.2,873.1 L1680.5,873.1 L1681.1,873.1 L1685.0,873.1 L1688.8,873.1 L1692.7,873.1 L1696.6,873.1 L1700.4,873.0 L1702.0,873.0 L1704.3,873.0 L1708.2,873.0 L1712.0,873.0 L1715.9,873.0 L1719.8,873.0 L1723.6,873.0 L1723.8,873.0 L1727.5,873.0 L1731.4,873.0 L1735.2,873.0 L1739.1,873.0 L1743.0,873.0 L1745.9,873.0 L1746.8,873.0 L1750.7,873.0 L1754.6,873.0 L1758.4,873.0 L1762.3,873.0 L1766.2,873.0 L1768.3,873.0 L1770.0,873.0 L1773.9,873.0 L1777.8,873.0 L1781.6,873.0 L1785.5,873.0 L1789.4,873.0 L1791.1,873.0 L1793.2,873.0 L1797.1,873.0 L1801.0,873.0 L1804.8,873.0 L1808.7,873.0 L1812.6,873.0 L1814.3,873.0 L1816.4,873.0 L1820.3,873.0 L1824.2,873.0 L1828.0,873.0 L1831.9,873.0 L1835.8,873.0 L1837.8,873.0 L1839.6,873.0 L1843.5,873.0 L1847.4,873.0 L1851.2,873.0 L1855.1,873.0 L1859.0,873.0 L1861.6,873.0 L1862.8,873.0 L1866.7,873.0 L1870.6,873.0 L1874.4,873.0 L1878.3,873.0 L1882.2,873.0 L1885.8,873.0 L1886.0,873.0 L1889.9,873.0 L1893.8,873.0 L1897.6,873.0 L1901.5,873.0 L1905.4,873.0 L1909.2,873.0 L1910.4,873.0 L1913.1,873.0 L1917.0,873.0 L1920.8,873.0 L1924.7,873.0 L1928.6,872.9 L1932.4,872.9 L1935.4,872.9 L1936.3,872.9 L1940.2,872.9 L1944.0,872.9 L1947.9,872.9 L1951.8,872.9 L1955.6,872.9 L1959.5,872.9 L1960.7,872.9 L1963.4,872.9 L1967.2,872.9 L1971.1,872.9 L1975.0,872.9 L1978.8,872.9 L1982.7,872.9 L1986.5,872.9 L1986.6,872.9 L1990.4,872.9 L1994.3,872.9 L1998.2,872.9 L2002.0,872.9 L2005.9,872.9 L2009.8,872.9 L2012.6,872.9 L2013.6,872.9 L2017.5,872.9 L2021.4,872.9 L2025.3,872.9 L2029.1,872.9 L2033.0,872.9 L2036.9,872.9 L2039.1,872.9 L2040.7,872.9 L2044.6,872.9 L2048.5,872.9 L2052.3,872.9 L2056.2,872.9 L2060.1,872.9 L2063.9,872.9 L2066.1,872.9 L2067.8,872.9 L2071.7,872.9 L2075.5,872.9 L2079.4,872.9 L2083.3,872.9 L2087.1,872.9 L2091.0,872.9 L2093.4,872.9 L2094.9,872.9 L2098.7,872.9 L2102.6,872.9 L2106.5,872.9 L2110.3,872.9 L2114.2,872.9 L2118.1,872.9 L2121.2,872.9 L2121.9,872.9 L2125.8,872.9 L2129.7,872.9 L2133.5,872.9 L2137.4,872.9 L2141.3,872.9 L2145.1,872.9 L2149.0,872.9 L2149.3,872.9 L2152.9,872.9 L2156.7,872.9 L2160.6,872.9 L2164.5,872.9 L2168.3,872.9 L2172.2,872.9 L2176.1,872.9 L2177.9,872.9 L2179.9,872.9 L2183.8,872.9 L2187.7,872.9 L2191.5,872.9 L2195.4,872.9 L2199.3,872.9 L2203.1,872.9 L2207.0,872.9"/>
<path stroke="#b177de" d="M388.5,1140.5 L388.5,1140.5 L388.5,1140.5 L388.5,1140.4 L388.5,1140.4 L388.5,1140.4 L388.5,1140.4 L388.5,1140.4 L388.5,1140.4 L388.5,1140.3 L388.5,1140.3 L388.5,1140.3 L388.5,1140.3 L388.5,1140.3 L388.5,1140.2 L388.5,1140.2 L388.5,1140.2 L388.5,1140.2 L388.5,1140.2 L388.5,1140.1 L388.5,1140.1 L388.5,1140.1 L388.5,1140.1 L388.5,1140.0 L388.5,1140.0 L388.5,1140.0 L388.5,1140.0 L388.5,1140.0 L388.5,1139.9 L388.5,1139.9 L388.5,1139.9 L388.5,1139.9 L388.5,1139.8 L388.5,1139.8 L388.5,1139.8 L388.5,1139.7 L388.5,1139.7 L388.5,1139.7 L388.5,1139.7 L388.5,1139.6 L388.5,1139.6 L388.5,1139.6 L388.5,1139.5 L388.5,1139.5 L388.5,1139.5 L388.5,1139.4 L388.5,1139.4 L388.5,1139.4 L388.5,1139.3 L388.5,1139.3 L388.5,1139.3 L388.5,1139.2 L388.5,1139.2 L388.5,1139.2 L388.5,1139.1 L388.5,1139.1 L388.5,1139.1 L388.5,1139.0 L388.5,1139.0 L388.5,1138.9 L388.5,1138.9 L388.5,1138.9 L388.5,1138.8 L388.5,1138.8 L388.5,1138.7 L388.5,1138.7 L388.5,1138.6 L388.5,1138.6 L388.5,1138.6 L388.5,1138.5 L388.5,1138.5 L388.5,1138.4 L388.5,1138.4 L388.5,1138.3 L388.5,1138.3 L388.5,1138.2 L388.5,1138.2 L388.5,1138.1 L388.5,1138.1 L388.5,1138.0 L388.5,1138.0 L388.5,1137.9 L388.5,1137.8 L388.5,1137.8 L388.5,1137.7 L388.5,1137.7 L388.5,1137.6 L388.5,1137.5 L388.5,1137.5 L388.5,1137.4 L388.5,1137.4 L388.5,1137.3 L388.5,1137.2 L388.5,1137.2 L388.5,1137.1 L388.5,1137.0 L388.5,1137.0 L388.5,1136.9 L388.5,1136.8 L388.5,1136.7 L388.5,1136.7 L388.5,1136.6 L388.5,1136.5 L388.5,1136.4 L388.5,1136.4 L388.5,1136.3 L388.5,1136.3 L388.5,1136.2 L388.5,1136.1 L388.5,1136.0 L388.5,1136.0 L388.5,1135.9 L388.5,1135.8 L388.5,1135.7 L388.5,1135.6 L388.5,1135.5 L388.5,1135.4 L388.5,1135.3 L388.5,1135.2 L388.5,1135.1 L388.5,1135.0 L388.5,1134.9 L388.5,1134.8 L388.5,1134.7 L388.5,1134.6 L388.5,1134.5 L388.5,1134.4 L388.5,1134.3 L388.5,1134.2 L388.5,1134.1 L388.5,1134.0 L388.5,1133.9 L388.5,1133.7 L388.5,1133.6 L388.5,1133.5 L388.5,1133.4 L388.5,1133.3 L388.5,1133.1 L388.5,1133.0 L388.5,1132.9 L388.5,1132.7 L388.5,1132.6 L388.5,1132.5 L388.5,1132.3 L388.5,1132.2 L388.5,1132.2 L388.5,1132.1 L388.5,1131.9 L388.5,1131.8 L388.5,1131.6 L388.5,1131.5 L388.5,1131.3 L388.5,1131.2 L388.5,1131.0 L388.5,1130.8 L388.5,1130.7 L388.5,1130.5 L388.5,1130.3 L388.5,1130.2 L388.5,1130.0 L388.5,1129.8 L388.5,1129.6 L388.5,1129.5 L388.5,1129.3 L388.5,1129.1 L388.5,1128.9 L388.5,1128.7 L388.5,1128.5 L388.5,1128.3 L388.5,1128.1 L388.5,1128.1 L388.5,1127.9 L388.5,1127.7 L388.5,1127.5 L388.5,1127.3 L388.5,1127.1 L388.5,1126.9 L388.5,1126.6 L388.5,1126.4 L388.5,1126.2 L388.5,1126.0 L388.5,1125.7 L388.5,1125.5 L388.5,1125.2 L388.5,1125.0 L388.5,1124.7 L388.5,1124.5 L388.5,1124.2 L388.5,1124.0 L388.5,1124.0 L388.5,1123.7 L388.5,1123.4 L388.5,1123.2 L388.5,1122.9 L388.5,1122.6 L388.5,1122.3 L388.5,1122.0 L388.5,1121.7 L388.5,1121.4 L388.5,1121.1 L388.5,1120.8 L388.5,1120.5 L388.5,1120.2 L388.5,1120.0 L388.5,1119.9 L388.5,1119.5 L388.5,1119.2 L388.5,1118.9 L388.5,1118.5 L388.5,1118.2 L388.5,1117.8 L388.5,1117.5 L388.5,1117.1 L388.5,1116.8 L388.5,1116.4 L388.5,1116.0 L388.5,1116.0 L388.5,1115.6 L388.5,1115.2 L388.5,1114.9 L388.5,1114.5 L388.5,1114.0 L388.5,1113.6 L388.5,1113.2 L388.5,1112.8 L388.5,1112.4 L388.5,1112.0 L388.5,1111.9 L388.5,1111.5 L388.5,1111.0 L388.5,1110.6 L388.5,1110.1 L388.5,1109.7 L388.5,1109.2 L388.5,1108.7 L388.5,1108.2 L388.5,1108.0 L388.5,1107.7 L388.5,1107.2 L388.5,1106.7 L388.5,1106.2 L388.5,1105.7 L388.5,1105.1 L388.5,1104.6 L388.5,1104.0 L388.5,1104.0 L388.5,1103.5 L388.5,1102.9 L388.5,1102.3 L388.5,1101.8 L388.5,1101.2 L388.5,1100.6 L388.5,1100.1 L388.5,1100.0 L388.5,1099.3 L388.5,1098.7 L388.5,1098.1 L388.5,1097.4 L388.5,1096.8 L388.5,1096.2 L388.5,1096.1 L388.5,1095.5 L388.5,1094.8 L388.5,1094.1 L388.5,1093.4 L388.5,1092.7 L388.5,1092.3 L388.5,1092.0 L388.5,1091.2 L388.5,1090.5 L388.5,1089.7 L388.5,1089.0 L388.6,1088.5 L388.6,1088.2 L388.6,1087.4 L388.6,1086.6 L388.6,1085.8 L388.6,1085.0 L388.6,1084.6 L388.6,1084.2 L388.6,1083.3 L388.6,1082.5 L388.6,1081.6 L388.6,1080.8 L388.6,1080.7 L388.6,1079.8 L388.6,1078.9 L388.6,1078.0 L388.6,1077.1 L388.6,1077.0 L388.6,1076.2 L388.6,1075.2 L388.6,1074.2 L388.6,1073.3 L388.6,1073.2 L388.6,1072.3 L388.6,1071.2 L388.6,1070.2 L388.6,1069.4 L388.6,1069.2 L388.6,1068.1 L388.6,1067.1 L388.6,1066.0 L388.6,1065.7 L388.7,1064.9 L388.7,1063.8 L388.7,1062.6 L388.7,1061.9 L388.7,1061.5 L388.7,1060.3 L388.7,1059.2 L388.7,1058.2 L388.7,1058.0 L388.7,1056.8 L388.7,1055.5 L388.7,1054.5 L388.7,1054.3 L388.7,1053.0 L388.7,1051.7 L388.8,1050.8 L388.8,1050.4 L388.8,1049.1 L388.8,1047.8 L388.8,1047.1 L388.8,1046.4 L388.8,1045.1 L388.8,1043.7 L388.8,1043.4 L388.8,1042.3 L388.8,1040.8 L388.9,1039.7 L388.9,1039.4 L388.9,1037.9 L388.9,1036.4 L388.9,1036.1 L389.2,1034.9 L390.0,1033.4 L390.5,1032.6 L390.9,1032.1 L392.0,1030.8 L393.2,1029.8 L393.3,1029.7 L394.6,1028.5 L396.0,1027.4 L396.2,1027.3 L397.5,1026.4 L399.0,1025.4 L399.4,1025.2 L400.6,1024.7 L402.3,1023.9 L402.9,1023.7 L404.1,1023.3 L406.0,1022.6 L406.6,1022.4 L407.9,1022.0 L409.8,1021.5 L410.3,1021.3 L411.7,1020.9 L413.7,1020.4 L414.0,1020.3 L415.7,1019.8 L417.7,1019.3 L417.8,1019.3 L419.8,1018.9 L421.6,1018.5 L421.9,1018.4 L424.1,1017.9 L425.3,1017.6 L426.3,1017.4 L428.5,1016.9 L429.1,1016.8 L430.8,1016.4 L432.9,1016.0 L433.1,1015.9 L435.4,1015.5 L436.7,1015.2 L437.8,1015.0 L440.2,1014.6 L440.5,1014.6 L442.6,1014.2 L444.3,1014.0 L445.1,1013.8 L447.7,1013.5 L448.2,1013.4 L450.3,1013.1 L452.0,1012.9 L452.9,1012.7 L455.6,1012.4 L455.8,1012.4 L458.3,1012.1 L459.7,1011.9 L461.0,1011.7 L463.5,1011.4 L463.8,1011.4 L466.6,1011.1 L467.3,1011.0 L469.5,1010.7 L471.2,1010.6 L472.5,1010.4 L475.0,1010.2 L475.4,1010.1 L478.5,1009.8 L478.9,1009.8 L481.5,1009.5 L482.7,1009.4 L484.6,1009.2 L486.6,1009.0 L487.8,1008.9 L490.4,1008.7 L491.0,1008.6 L494.3,1008.3 L494.3,1008.3 L497.6,1008.0 L498.1,1008.0 L500.9,1007.7 L502.0,1007.6 L504.3,1007.4 L505.8,1007.3 L507.8,1007.1 L509.7,1007.0 L511.3,1006.8 L513.5,1006.7 L514.9,1006.6 L517.4,1006.4 L518.5,1006.3 L521.3,1006.1 L522.2,1006.1 L525.1,1005.9 L526.0,1005.8 L529.0,1005.6 L529.8,1005.6 L532.8,1005.4 L533.6,1005.3 L536.7,1005.2 L537.5,1005.1 L540.5,1004.9 L541.5,1004.9 L544.4,1004.7 L545.6,1004.6 L548.3,1004.5 L549.7,1004.4 L552.1,1004.3 L553.8,1004.2 L556.0,1004.1 L558.1,1003.9 L559.9,1003.9 L562.4,1003.7 L563.7,1003.7 L566.7,1003.5 L567.6,1003.5 L571.1,1003.3 L571.4,1003.3 L575.3,1003.1 L575.6,1003.1 L579.2,1002.9 L580.2,1002.9 L583.0,1002.7 L584.8,1002.7 L586.9,1002.6 L589.5,1002.5 L590.8,1002.4 L594.3,1002.3 L594.6,1002.2 L598.5,1002.1 L599.2,1002.1 L602.4,1001.9 L604.1,1001.9 L606.2,1001.8 L609.1,1001.7 L610.1,1001.7 L613.9,1001.5 L614.2,1001.5 L617.8,1001.4 L619.3,1001.3 L621.7,1001.3 L624.6,1001.2 L625.5,1001.1 L629.4,1001.0 L629.9,1001.0 L633.3,1000.9 L635.3,1000.8 L637.1,1000.8 L640.7,1000.6 L641.0,1000.6 L644.9,1000.5 L646.3,1000.5 L648.7,1000.4 L652.0,1000.3 L652.6,1000.3 L656.5,1000.2 L657.7,1000.1 L660.3,1000.1 L663.5,1000.0 L664.2,999.9 L668.1,999.8 L669.4,999.8 L671.9,999.7 L675.4,999.6 L675.8,999.6 L679.6,999.5 L681.5,999.5 L683.5,999.4 L687.4,999.3 L687.7,999.3 L691.2,999.2 L694.0,999.2 L695.1,999.1 L699.0,999.1 L700.4,999.0 L702.8,999.0 L706.7,998.9 L706.8,998.9 L710.6,998.8 L713.4,998.7 L714.4,998.7 L718.3,998.6 L720.1,998.6 L722.2,998.5 L726.0,998.5 L726.9,998.4 L729.9,998.4 L733.7,998.3 L733.8,998.3 L737.6,998.2 L740.7,998.2 L741.5,998.2 L745.4,998.1 L747.8,998.1 L749.2,998.0 L753.1,998.0 L755.0,997.9 L757.0,997.9 L760.8,997.8 L762.3,997.8 L764.7,997.8 L768.6,997.7 L769.7,997.7 L772.4,997.6 L776.3,997.6 L777.3,997.6 L780.2,997.5 L784.0,997.5 L784.9,997.4 L787.9,997.4 L791.8,997.3 L792.7,997.3 L795.6,997.3 L799.5,997.2 L800.6,997.2 L803.4,997.2 L807.2,997.1 L808.6,997.1 L811.1,997.1 L815.0,997.0 L816.7,997.0 L818.8,997.0 L822.7,996.9 L825.0,996.9 L826.6,996.9 L830.4,996.8 L833.3,996.8 L834.3,996.8 L838.2,996.7 L841.8,996.7 L842.0,996.7 L845.9,996.6 L849.8,996.6 L850.5,996.6 L853.6,996.5 L857.5,996.5 L859.3,996.5 L861.4,996.4 L865.2,996.4 L868.2,996.4 L869.1,996.4 L873.0,996.3 L876.8,996.3 L877.2,996.3 L880.7,996.3 L884.6,996.2 L886.4,996.2 L888.4,996.2 L892.3,996.2 L895.7,996.1 L896.2,996.1 L900.0,996.1 L903.9,996.1 L905.1,996.1 L907.8,996.0 L911.6,996.0 L914.7,996.0 L915.5,996.0 L919.4,996.0 L923.2,995.9 L924.5,995.9 L927.1,995.9 L931.0,995.9 L934.4,995.9 L934.8,995.9 L938.7,995.8 L942.6,995.8 L944.4,995.8 L946.4,995.8 L950.3,995.8 L954.2,995.7 L954.7,995.7 L958.0,995.7 L961.9,995.7 L965.0,995.7 L965.8,995.7 L969.6,995.6 L973.5,995.6 L975.5,995.6 L977.4,995.6 L981.2,995.6 L985.1,995.5 L986.2,995.5 L989.0,995.5 L992.8,995.5 L996.7,995.5 L997.1,995.5 L1000.6,995.5 L1004.4,995.4 L1008.1,995.4 L1008.3,995.4 L1012.2,995.4 L1016.0,995.4 L1019.2,995.4 L1019.9,995.4 L1023.8,995.3 L1027.6,995.3 L1030.6,995.3 L1031.5,995.3 L1035.4,995.3 L1039.2,995.3 L1042.1,995.3 L1043.1,995.3 L1047.0,995.2 L1050.8,995.2 L1053.8,995.2 L1054.7,995.2 L1058.6,995.2 L1062.4,995.2 L1065.7,995.2 L1066.3,995.1 L1070.2,995.1 L1074.0,995.1 L1077.7,995.1 L1077.9,995.1 L1081.8,995.1 L1085.6,995.1 L1089.5,995.0 L1090.0,995.0 L1093.4,995.0 L1097.2,995.0 L1101.1,995.0 L1102.4,995.0 L1105.0,995.0 L1108.8,995.0 L1112.7,995.0 L1115.0,994.9 L1116.6,994.9 L1120.4,994.9 L1124.3,994.9 L1127.8,994.9 L1128.2,994.9 L1132.0,994.9 L1135.9,994.9 L1139.8,994.8 L1140.8,994.8 L1143.6,994.8 L1147.5,994.8 L1151.4,994.8 L1154.0,994.8 L1155.2,994.8 L1159.1,994.8 L1163.0,994.7 L1166.8,994.7 L1167.4,994.7 L1170.7,994.7 L1174.6,994.7 L1178.4,994.7 L1181.1,994.7 L1182.3,994.7 L1186.2,994.7 L1190.0,994.6 L1193.9,994.6 L1194.9,994.6 L1197.8,994.6 L1201.6,994.6 L1205.5,994.6 L1208.9,994.6 L1209.4,994.6 L1213.2,994.5 L1217.1,994.5 L1221.0,994.5 L1223.2,994.5 L1224.8,994.5 L1228.7,994.5 L1232.6,994.5 L1236.4,994.5 L1237.6,994.4 L1240.3,994.4 L1244.2,994.4 L1248.0,994.4 L1251.9,994.4 L1252.3,994.4 L1255.8,994.4 L1259.6,994.4 L1263.5,994.3 L1267.2,994.3 L1267.4,994.3 L1271.2,994.3 L1275.1,994.3 L1279.0,994.3 L1282.3,994.3 L1282.8,994.3 L1286.7,994.2 L1290.6,994.2 L1294.4,994.2 L1297.7,994.2 L1298.3,994.2 L1302.2,994.2 L1306.0,994.2 L1309.9,994.2 L1313.3,994.1 L1313.8,994.1 L1317.6,994.1 L1321.5,994.1 L1325.4,994.1 L1329.2,994.1 L1329.2,994.1 L1333.1,994.1 L1337.0,994.1 L1340.8,994.0 L1344.7,994.0 L1345.2,994.0 L1348.6,994.0 L1352.4,994.0 L1356.3,994.0 L1360.2,994.0 L1361.6,994.0 L1364.0,994.0 L1367.9,993.9 L1371.8,993.9 L1375.6,993.9 L1378.1,993.9 L1379.5,993.9 L1383.4,993.9 L1387.2,993.9 L1391.1,993.9 L1395.0,993.9 L1395.0,993.9 L1398.8,993.8 L1402.7,993.8 L1406.6,993.8 L1410.4,993.8 L1412.1,993.8 L1414.3,993.8 L1418.2,993.8 L1422.0,993.8 L1425.9,993.8 L1429.4,993.7 L1429.8,993.7 L1433.6,993.7 L1437.5,993.7 L1441.4,993.7 L1445.2,993.7 L1447.0,993.7 L1449.1,993.7 L1453.0,993.7 L1456.8,993.7 L1460.7,993.7 L1464.6,993.6 L1464.9,993.6 L1468.4,993.6 L1472.3,993.6 L1476.2,993.6 L1480.0,993.6 L1483.1,993.6 L1483.9,993.6 L1487.8,993.6 L1491.6,993.6 L1495.5,993.6 L1499.4,993.6 L1501.5,993.5 L1503.2,993.5 L1507.1,993.5 L1511.0,993.5 L1514.8,993.5 L1518.7,993.5 L1520.2,993.5 L1522.6,993.5 L1526.4,993.5 L1530.3,993.5 L1534.2,993.5 L1538.0,993.5 L1539.2,993.5 L1541.9,993.5 L1545.8,993.4 L1549.6,993.4 L1553.5,993.4 L1557.4,993.4 L1558.5,993.4 L1561.2,993.4 L1565.1,993.4 L1569.0,993.4 L1572.8,993.4 L1576.7,993.4 L1578.1,993.4 L1580.6,993.4 L1584.4,993.4 L1588.3,993.4 L1592.2,993.3 L1596.0,993.3 L1598.0,993.3 L1599.9,993.3 L1603.8,993.3 L1607.6,993.3 L1611.5,993.3 L1615.4,993.3 L1618.1,993.3 L1619.2,993.3 L1623.1,993.3 L1627.0,993.3 L1630.8,993.3 L1634.7,993.3 L1638.6,993.3 L1638.6,993.3 L1642.4,993.3 L1646.3,993.2 L1650.2,993.2 L1654.0,993.2 L1657.9,993.2 L1659.5,993.2 L1661.8,993.2 L1665.6,993.2 L1669.5,993.2 L1673.4,993.2 L1677.2,993.2 L1680.6,993.2 L1681.1,993.2 L1685.0,993.2 L1688.9,993.2 L1692.7,993.2 L1696.6,993.2 L1700.5,993.2 L1702.0,993.1 L1704.3,993.1 L1708.2,993.1 L1712.1,993.1 L1715.9,993.1 L1719.8,993.1 L1723.7,993.1 L1723.8,993.1 L1727.5,993.1 L1731.4,993.1 L1735.3,993.1 L1739.1,993.1 L1743.0,993.1 L1745.9,993.1 L1746.9,993.1 L1750.7,993.1 L1754.6,993.1 L1758.5,993.1 L1762.3,993.1 L1766.2,993.0 L1768.4,993.0 L1770.1,993.0 L1773.9,993.0 L1777.8,993.0 L1781.7,993.0 L1785.5,993.0 L1789.4,993.0 L1791.2,993.0 L1793.3,993.0 L1797.1,993.0 L1801.0,993.0 L1804.9,993.0 L1808.7,993.0 L1812.6,993.0 L1814.3,993.0 L1816.5,993.0 L1820.3,993.0 L1824.2,993.0 L1828.1,993.0 L1831.9,993.0 L1835.8,993.0 L1837.8,992.9 L1839.7,992.9 L1843.5,992.9 L1847.4,992.9 L1851.3,992.9 L1855.1,992.9 L1859.0,992.9 L1861.6,992.9 L1862.9,992.9 L1866.7,992.9 L1870.6,992.9 L1874.5,992.9 L1878.3,992.9 L1882.2,992.9 L1885.9,992.9 L1886.1,992.9 L1889.9,992.9 L1893.8,992.9 L1897.7,992.9 L1901.5,992.9 L1905.4,992.9 L1909.3,992.9 L1910.5,992.9 L1913.1,992.9 L1917.0,992.9 L1920.9,992.9 L1924.7,992.9 L1928.6,992.8 L1932.5,992.8 L1935.4,992.8 L1936.3,992.8 L1940.2,992.8 L1944.1,992.8 L1947.9,992.8 L1951.8,992.8 L1955.7,992.8 L1959.5,992.8 L1960.8,992.8 L1963.4,992.8 L1967.3,992.8 L1971.1,992.8 L1975.0,992.8 L1978.9,992.8 L1982.7,992.8 L1986.5,992.8 L1986.6,992.8 L1990.5,992.8 L1994.3,992.8 L1998.2,992.8 L2002.1,992.8 L2005.9,992.8 L2009.8,992.8 L2012.6,992.8 L2013.7,992.8 L2017.5,992.8 L2021.4,992.8 L2025.3,992.8 L2029.1,992.7 L2033.0,992.7 L2036.9,992.7 L2039.1,992.7 L2040.7,992.7 L2044.6,992.7 L2048.5,992.7 L2052.3,992.7 L2056.2,992.7 L2060.1,992.7 L2063.9,992.7 L2066.1,992.7 L2067.8,992.7 L2071.7,992.7 L2075.5,992.7 L2079.4,992.7 L2083.3,992.7 L2087.1,992.7 L2091.0,992.7 L2093.4,992.7 L2094.9,992.7 L2098.7,992.7 L2102.6,992.7 L2106.5,992.7 L2110.3,992.7 L2114.2,992.6 L2118.1,992.6 L2121.2,992.6 L2121.9,992.6 L2125.8,992.6 L2129.7,992.6 L2133.5,992.6 L2137.4,992.6 L2141.3,992.6 L2145.1,992.6 L2149.0,992.6 L2149.3,992.6 L2152.9,992.6 L2156.7,992.6 L2160.6,992.6 L2164.5,992.6 L2168.3,992.6 L2172.2,992.6 L2176.1,992.6 L2178.0,992.6 L2179.9,992.6 L2183.8,992.5 L2187.7,992.5 L2191.5,992.5 L2195.4,992.5 L2199.3,992.5 L2203.1,992.5 L2207.0,992.5"/>
</g>
<g class="tk" text-anchor="end">
<text transform="translate(338.0,1552.3) scale(1,1.06)">0.000</text>
<text transform="translate(338.0,1342.4) scale(1,1.06)">0.025</text>
<text transform="translate(338.0,1132.6) scale(1,1.06)">0.050</text>
<text transform="translate(338.0,922.7) scale(1,1.06)">0.075</text>
<text transform="translate(338.0,712.8) scale(1,1.06)">0.100</text>
<text transform="translate(338.0,502.9) scale(1,1.06)">0.125</text>
<text transform="translate(338.0,293.1) scale(1,1.06)">0.150</text>
<text transform="translate(338.0,83.2) scale(1,1.06)">0.175</text>
</g>
<g class="tk" text-anchor="middle">
<text transform="translate(387.4,1630.2) scale(1,1.06)">0</text>
<text transform="translate(752.0,1630.2) scale(1,1.06)">2</text>
<text transform="translate(1116.6,1630.2) scale(1,1.06)">4</text>
<text transform="translate(1481.2,1630.2) scale(1,1.06)">6</text>
<text transform="translate(1845.8,1630.2) scale(1,1.06)">8</text>
<text transform="translate(2210.4,1630.2) scale(1,1.06)">10</text>
</g>
<text class="ti" text-anchor="middle" transform="translate(1297.4,1753.2) scale(1,1.045)">Time (h)</text>
<text class="ti" text-anchor="middle" transform="translate(96.2,766.8) rotate(-90) scale(1,1.045)">Strain (<tspan font-weight="400" font-size="66px" dx="2">ε</tspan><tspan dx="2">)</tspan></text>
<g>
<line x1="1535" x2="1712.5" y1="1090.3" y2="1090.3" stroke="#515151" stroke-width="7.2"/>
<text class="lg" transform="translate(1729.4,1116.6) scale(1,1.06)">PA6</text>
<line x1="1535" x2="1712.5" y1="1184.2" y2="1184.2" stroke="#f14040" stroke-width="7.2"/>
<text class="lg" transform="translate(1729.4,1210.5) scale(1,1.06)">PA6+0.1GO</text>
<line x1="1535" x2="1712.5" y1="1278.1" y2="1278.1" stroke="#1a6fdf" stroke-width="7.2"/>
<text class="lg" transform="translate(1729.4,1304.4) scale(1,1.06)">PA6+0.25GO</text>
<line x1="1535" x2="1712.5" y1="1371.9" y2="1371.9" stroke="#37ad6b" stroke-width="7.2"/>
<text class="lg" transform="translate(1729.4,1398.2) scale(1,1.06)">PA6+0.5GO</text>
<line x1="1535" x2="1712.5" y1="1465.8" y2="1465.8" stroke="#b177de" stroke-width="7.2"/>
<text class="lg" transform="translate(1729.4,1492.1) scale(1,1.06)">PA6+1GO</text>
</g>
</svg></body></html>
